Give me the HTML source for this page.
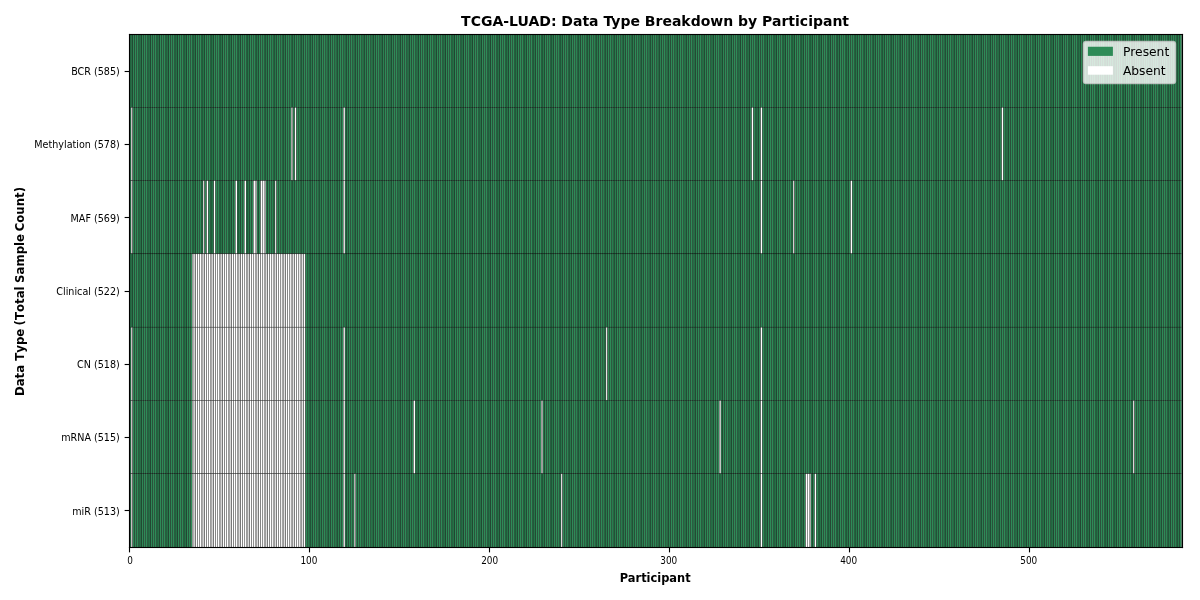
<!DOCTYPE html>
<html><head><meta charset="utf-8"><title>TCGA-LUAD: Data Type Breakdown by Participant</title>
<style>
html,body{margin:0;padding:0;background:#fff;width:1200px;height:600px;overflow:hidden}
svg{display:block;will-change:transform}
text{font-family:"DejaVu Sans","Liberation Sans",sans-serif;fill:#000}
.b{font-weight:bold}
</style></head><body>
<svg width="1200" height="600" viewBox="0 0 1200 600">
<rect x="0" y="0" width="1200" height="600" fill="#fff"/>

<defs><g id="g"><rect width="1.7988" height="73.2857" fill="#2e8b57"/><path d="M-0.1736 0.0000H0.1736V73.2857H-0.1736ZM1.6252 0.0000H1.9724V73.2857H1.6252Z"/></g><g id="w"><rect width="1.7988" height="73.2857" fill="#fff"/><path d="M-0.1736 0.0000H0.1736V73.2857H-0.1736ZM1.6252 0.0000H1.9724V73.2857H1.6252Z"/></g></defs>
<g class="hm">
<g transform="translate(0 34.0000)">
<use href="#g" x="129.250"/>
<use href="#g" x="131.049"/>
<use href="#g" x="132.848"/>
<use href="#g" x="134.646"/>
<use href="#g" x="136.445"/>
<use href="#g" x="138.244"/>
<use href="#g" x="140.043"/>
<use href="#g" x="141.842"/>
<use href="#g" x="143.640"/>
<use href="#g" x="145.439"/>
<use href="#g" x="147.238"/>
<use href="#g" x="149.037"/>
<use href="#g" x="150.836"/>
<use href="#g" x="152.634"/>
<use href="#g" x="154.433"/>
<use href="#g" x="156.232"/>
<use href="#g" x="158.031"/>
<use href="#g" x="159.830"/>
<use href="#g" x="161.628"/>
<use href="#g" x="163.427"/>
<use href="#g" x="165.226"/>
<use href="#g" x="167.025"/>
<use href="#g" x="168.824"/>
<use href="#g" x="170.622"/>
<use href="#g" x="172.421"/>
<use href="#g" x="174.220"/>
<use href="#g" x="176.019"/>
<use href="#g" x="177.818"/>
<use href="#g" x="179.616"/>
<use href="#g" x="181.415"/>
<use href="#g" x="183.214"/>
<use href="#g" x="185.013"/>
<use href="#g" x="186.812"/>
<use href="#g" x="188.610"/>
<use href="#g" x="190.409"/>
<use href="#g" x="192.208"/>
<use href="#g" x="194.007"/>
<use href="#g" x="195.806"/>
<use href="#g" x="197.604"/>
<use href="#g" x="199.403"/>
<use href="#g" x="201.202"/>
<use href="#g" x="203.001"/>
<use href="#g" x="204.800"/>
<use href="#g" x="206.598"/>
<use href="#g" x="208.397"/>
<use href="#g" x="210.196"/>
<use href="#g" x="211.995"/>
<use href="#g" x="213.794"/>
<use href="#g" x="215.592"/>
<use href="#g" x="217.391"/>
<use href="#g" x="219.190"/>
<use href="#g" x="220.989"/>
<use href="#g" x="222.788"/>
<use href="#g" x="224.586"/>
<use href="#g" x="226.385"/>
<use href="#g" x="228.184"/>
<use href="#g" x="229.983"/>
<use href="#g" x="231.782"/>
<use href="#g" x="233.580"/>
<use href="#g" x="235.379"/>
<use href="#g" x="237.178"/>
<use href="#g" x="238.977"/>
<use href="#g" x="240.776"/>
<use href="#g" x="242.574"/>
<use href="#g" x="244.373"/>
<use href="#g" x="246.172"/>
<use href="#g" x="247.971"/>
<use href="#g" x="249.770"/>
<use href="#g" x="251.568"/>
<use href="#g" x="253.367"/>
<use href="#g" x="255.166"/>
<use href="#g" x="256.965"/>
<use href="#g" x="258.764"/>
<use href="#g" x="260.562"/>
<use href="#g" x="262.361"/>
<use href="#g" x="264.160"/>
<use href="#g" x="265.959"/>
<use href="#g" x="267.758"/>
<use href="#g" x="269.556"/>
<use href="#g" x="271.355"/>
<use href="#g" x="273.154"/>
<use href="#g" x="274.953"/>
<use href="#g" x="276.752"/>
<use href="#g" x="278.550"/>
<use href="#g" x="280.349"/>
<use href="#g" x="282.148"/>
<use href="#g" x="283.947"/>
<use href="#g" x="285.746"/>
<use href="#g" x="287.544"/>
<use href="#g" x="289.343"/>
<use href="#g" x="291.142"/>
<use href="#g" x="292.941"/>
<use href="#g" x="294.740"/>
<use href="#g" x="296.538"/>
<use href="#g" x="298.337"/>
<use href="#g" x="300.136"/>
<use href="#g" x="301.935"/>
<use href="#g" x="303.734"/>
<use href="#g" x="305.532"/>
<use href="#g" x="307.331"/>
<use href="#g" x="309.130"/>
<use href="#g" x="310.929"/>
<use href="#g" x="312.728"/>
<use href="#g" x="314.526"/>
<use href="#g" x="316.325"/>
<use href="#g" x="318.124"/>
<use href="#g" x="319.923"/>
<use href="#g" x="321.722"/>
<use href="#g" x="323.520"/>
<use href="#g" x="325.319"/>
<use href="#g" x="327.118"/>
<use href="#g" x="328.917"/>
<use href="#g" x="330.716"/>
<use href="#g" x="332.514"/>
<use href="#g" x="334.313"/>
<use href="#g" x="336.112"/>
<use href="#g" x="337.911"/>
<use href="#g" x="339.710"/>
<use href="#g" x="341.508"/>
<use href="#g" x="343.307"/>
<use href="#g" x="345.106"/>
<use href="#g" x="346.905"/>
<use href="#g" x="348.704"/>
<use href="#g" x="350.502"/>
<use href="#g" x="352.301"/>
<use href="#g" x="354.100"/>
<use href="#g" x="355.899"/>
<use href="#g" x="357.698"/>
<use href="#g" x="359.496"/>
<use href="#g" x="361.295"/>
<use href="#g" x="363.094"/>
<use href="#g" x="364.893"/>
<use href="#g" x="366.692"/>
<use href="#g" x="368.490"/>
<use href="#g" x="370.289"/>
<use href="#g" x="372.088"/>
<use href="#g" x="373.887"/>
<use href="#g" x="375.686"/>
<use href="#g" x="377.484"/>
<use href="#g" x="379.283"/>
<use href="#g" x="381.082"/>
<use href="#g" x="382.881"/>
<use href="#g" x="384.680"/>
<use href="#g" x="386.478"/>
<use href="#g" x="388.277"/>
<use href="#g" x="390.076"/>
<use href="#g" x="391.875"/>
<use href="#g" x="393.674"/>
<use href="#g" x="395.472"/>
<use href="#g" x="397.271"/>
<use href="#g" x="399.070"/>
<use href="#g" x="400.869"/>
<use href="#g" x="402.668"/>
<use href="#g" x="404.466"/>
<use href="#g" x="406.265"/>
<use href="#g" x="408.064"/>
<use href="#g" x="409.863"/>
<use href="#g" x="411.662"/>
<use href="#g" x="413.460"/>
<use href="#g" x="415.259"/>
<use href="#g" x="417.058"/>
<use href="#g" x="418.857"/>
<use href="#g" x="420.656"/>
<use href="#g" x="422.454"/>
<use href="#g" x="424.253"/>
<use href="#g" x="426.052"/>
<use href="#g" x="427.851"/>
<use href="#g" x="429.650"/>
<use href="#g" x="431.448"/>
<use href="#g" x="433.247"/>
<use href="#g" x="435.046"/>
<use href="#g" x="436.845"/>
<use href="#g" x="438.644"/>
<use href="#g" x="440.442"/>
<use href="#g" x="442.241"/>
<use href="#g" x="444.040"/>
<use href="#g" x="445.839"/>
<use href="#g" x="447.638"/>
<use href="#g" x="449.436"/>
<use href="#g" x="451.235"/>
<use href="#g" x="453.034"/>
<use href="#g" x="454.833"/>
<use href="#g" x="456.632"/>
<use href="#g" x="458.430"/>
<use href="#g" x="460.229"/>
<use href="#g" x="462.028"/>
<use href="#g" x="463.827"/>
<use href="#g" x="465.626"/>
<use href="#g" x="467.424"/>
<use href="#g" x="469.223"/>
<use href="#g" x="471.022"/>
<use href="#g" x="472.821"/>
<use href="#g" x="474.620"/>
<use href="#g" x="476.418"/>
<use href="#g" x="478.217"/>
<use href="#g" x="480.016"/>
<use href="#g" x="481.815"/>
<use href="#g" x="483.614"/>
<use href="#g" x="485.412"/>
<use href="#g" x="487.211"/>
<use href="#g" x="489.010"/>
<use href="#g" x="490.809"/>
<use href="#g" x="492.608"/>
<use href="#g" x="494.406"/>
<use href="#g" x="496.205"/>
<use href="#g" x="498.004"/>
<use href="#g" x="499.803"/>
<use href="#g" x="501.602"/>
<use href="#g" x="503.400"/>
<use href="#g" x="505.199"/>
<use href="#g" x="506.998"/>
<use href="#g" x="508.797"/>
<use href="#g" x="510.596"/>
<use href="#g" x="512.394"/>
<use href="#g" x="514.193"/>
<use href="#g" x="515.992"/>
<use href="#g" x="517.791"/>
<use href="#g" x="519.590"/>
<use href="#g" x="521.388"/>
<use href="#g" x="523.187"/>
<use href="#g" x="524.986"/>
<use href="#g" x="526.785"/>
<use href="#g" x="528.584"/>
<use href="#g" x="530.382"/>
<use href="#g" x="532.181"/>
<use href="#g" x="533.980"/>
<use href="#g" x="535.779"/>
<use href="#g" x="537.578"/>
<use href="#g" x="539.376"/>
<use href="#g" x="541.175"/>
<use href="#g" x="542.974"/>
<use href="#g" x="544.773"/>
<use href="#g" x="546.572"/>
<use href="#g" x="548.370"/>
<use href="#g" x="550.169"/>
<use href="#g" x="551.968"/>
<use href="#g" x="553.767"/>
<use href="#g" x="555.566"/>
<use href="#g" x="557.364"/>
<use href="#g" x="559.163"/>
<use href="#g" x="560.962"/>
<use href="#g" x="562.761"/>
<use href="#g" x="564.560"/>
<use href="#g" x="566.358"/>
<use href="#g" x="568.157"/>
<use href="#g" x="569.956"/>
<use href="#g" x="571.755"/>
<use href="#g" x="573.554"/>
<use href="#g" x="575.352"/>
<use href="#g" x="577.151"/>
<use href="#g" x="578.950"/>
<use href="#g" x="580.749"/>
<use href="#g" x="582.548"/>
<use href="#g" x="584.346"/>
<use href="#g" x="586.145"/>
<use href="#g" x="587.944"/>
<use href="#g" x="589.743"/>
<use href="#g" x="591.542"/>
<use href="#g" x="593.340"/>
<use href="#g" x="595.139"/>
<use href="#g" x="596.938"/>
<use href="#g" x="598.737"/>
<use href="#g" x="600.536"/>
<use href="#g" x="602.334"/>
<use href="#g" x="604.133"/>
<use href="#g" x="605.932"/>
<use href="#g" x="607.731"/>
<use href="#g" x="609.530"/>
<use href="#g" x="611.328"/>
<use href="#g" x="613.127"/>
<use href="#g" x="614.926"/>
<use href="#g" x="616.725"/>
<use href="#g" x="618.524"/>
<use href="#g" x="620.322"/>
<use href="#g" x="622.121"/>
<use href="#g" x="623.920"/>
<use href="#g" x="625.719"/>
<use href="#g" x="627.518"/>
<use href="#g" x="629.316"/>
<use href="#g" x="631.115"/>
<use href="#g" x="632.914"/>
<use href="#g" x="634.713"/>
<use href="#g" x="636.512"/>
<use href="#g" x="638.310"/>
<use href="#g" x="640.109"/>
<use href="#g" x="641.908"/>
<use href="#g" x="643.707"/>
<use href="#g" x="645.506"/>
<use href="#g" x="647.304"/>
<use href="#g" x="649.103"/>
<use href="#g" x="650.902"/>
<use href="#g" x="652.701"/>
<use href="#g" x="654.500"/>
<use href="#g" x="656.298"/>
<use href="#g" x="658.097"/>
<use href="#g" x="659.896"/>
<use href="#g" x="661.695"/>
<use href="#g" x="663.494"/>
<use href="#g" x="665.292"/>
<use href="#g" x="667.091"/>
<use href="#g" x="668.890"/>
<use href="#g" x="670.689"/>
<use href="#g" x="672.488"/>
<use href="#g" x="674.286"/>
<use href="#g" x="676.085"/>
<use href="#g" x="677.884"/>
<use href="#g" x="679.683"/>
<use href="#g" x="681.482"/>
<use href="#g" x="683.280"/>
<use href="#g" x="685.079"/>
<use href="#g" x="686.878"/>
<use href="#g" x="688.677"/>
<use href="#g" x="690.476"/>
<use href="#g" x="692.274"/>
<use href="#g" x="694.073"/>
<use href="#g" x="695.872"/>
<use href="#g" x="697.671"/>
<use href="#g" x="699.470"/>
<use href="#g" x="701.268"/>
<use href="#g" x="703.067"/>
<use href="#g" x="704.866"/>
<use href="#g" x="706.665"/>
<use href="#g" x="708.464"/>
<use href="#g" x="710.262"/>
<use href="#g" x="712.061"/>
<use href="#g" x="713.860"/>
<use href="#g" x="715.659"/>
<use href="#g" x="717.458"/>
<use href="#g" x="719.256"/>
<use href="#g" x="721.055"/>
<use href="#g" x="722.854"/>
<use href="#g" x="724.653"/>
<use href="#g" x="726.452"/>
<use href="#g" x="728.250"/>
<use href="#g" x="730.049"/>
<use href="#g" x="731.848"/>
<use href="#g" x="733.647"/>
<use href="#g" x="735.446"/>
<use href="#g" x="737.244"/>
<use href="#g" x="739.043"/>
<use href="#g" x="740.842"/>
<use href="#g" x="742.641"/>
<use href="#g" x="744.440"/>
<use href="#g" x="746.238"/>
<use href="#g" x="748.037"/>
<use href="#g" x="749.836"/>
<use href="#g" x="751.635"/>
<use href="#g" x="753.434"/>
<use href="#g" x="755.232"/>
<use href="#g" x="757.031"/>
<use href="#g" x="758.830"/>
<use href="#g" x="760.629"/>
<use href="#g" x="762.428"/>
<use href="#g" x="764.226"/>
<use href="#g" x="766.025"/>
<use href="#g" x="767.824"/>
<use href="#g" x="769.623"/>
<use href="#g" x="771.422"/>
<use href="#g" x="773.220"/>
<use href="#g" x="775.019"/>
<use href="#g" x="776.818"/>
<use href="#g" x="778.617"/>
<use href="#g" x="780.416"/>
<use href="#g" x="782.214"/>
<use href="#g" x="784.013"/>
<use href="#g" x="785.812"/>
<use href="#g" x="787.611"/>
<use href="#g" x="789.410"/>
<use href="#g" x="791.208"/>
<use href="#g" x="793.007"/>
<use href="#g" x="794.806"/>
<use href="#g" x="796.605"/>
<use href="#g" x="798.404"/>
<use href="#g" x="800.202"/>
<use href="#g" x="802.001"/>
<use href="#g" x="803.800"/>
<use href="#g" x="805.599"/>
<use href="#g" x="807.398"/>
<use href="#g" x="809.196"/>
<use href="#g" x="810.995"/>
<use href="#g" x="812.794"/>
<use href="#g" x="814.593"/>
<use href="#g" x="816.392"/>
<use href="#g" x="818.190"/>
<use href="#g" x="819.989"/>
<use href="#g" x="821.788"/>
<use href="#g" x="823.587"/>
<use href="#g" x="825.386"/>
<use href="#g" x="827.184"/>
<use href="#g" x="828.983"/>
<use href="#g" x="830.782"/>
<use href="#g" x="832.581"/>
<use href="#g" x="834.380"/>
<use href="#g" x="836.178"/>
<use href="#g" x="837.977"/>
<use href="#g" x="839.776"/>
<use href="#g" x="841.575"/>
<use href="#g" x="843.374"/>
<use href="#g" x="845.172"/>
<use href="#g" x="846.971"/>
<use href="#g" x="848.770"/>
<use href="#g" x="850.569"/>
<use href="#g" x="852.368"/>
<use href="#g" x="854.166"/>
<use href="#g" x="855.965"/>
<use href="#g" x="857.764"/>
<use href="#g" x="859.563"/>
<use href="#g" x="861.362"/>
<use href="#g" x="863.160"/>
<use href="#g" x="864.959"/>
<use href="#g" x="866.758"/>
<use href="#g" x="868.557"/>
<use href="#g" x="870.356"/>
<use href="#g" x="872.154"/>
<use href="#g" x="873.953"/>
<use href="#g" x="875.752"/>
<use href="#g" x="877.551"/>
<use href="#g" x="879.350"/>
<use href="#g" x="881.148"/>
<use href="#g" x="882.947"/>
<use href="#g" x="884.746"/>
<use href="#g" x="886.545"/>
<use href="#g" x="888.344"/>
<use href="#g" x="890.142"/>
<use href="#g" x="891.941"/>
<use href="#g" x="893.740"/>
<use href="#g" x="895.539"/>
<use href="#g" x="897.338"/>
<use href="#g" x="899.136"/>
<use href="#g" x="900.935"/>
<use href="#g" x="902.734"/>
<use href="#g" x="904.533"/>
<use href="#g" x="906.332"/>
<use href="#g" x="908.130"/>
<use href="#g" x="909.929"/>
<use href="#g" x="911.728"/>
<use href="#g" x="913.527"/>
<use href="#g" x="915.326"/>
<use href="#g" x="917.124"/>
<use href="#g" x="918.923"/>
<use href="#g" x="920.722"/>
<use href="#g" x="922.521"/>
<use href="#g" x="924.320"/>
<use href="#g" x="926.118"/>
<use href="#g" x="927.917"/>
<use href="#g" x="929.716"/>
<use href="#g" x="931.515"/>
<use href="#g" x="933.314"/>
<use href="#g" x="935.112"/>
<use href="#g" x="936.911"/>
<use href="#g" x="938.710"/>
<use href="#g" x="940.509"/>
<use href="#g" x="942.308"/>
<use href="#g" x="944.106"/>
<use href="#g" x="945.905"/>
<use href="#g" x="947.704"/>
<use href="#g" x="949.503"/>
<use href="#g" x="951.302"/>
<use href="#g" x="953.100"/>
<use href="#g" x="954.899"/>
<use href="#g" x="956.698"/>
<use href="#g" x="958.497"/>
<use href="#g" x="960.296"/>
<use href="#g" x="962.094"/>
<use href="#g" x="963.893"/>
<use href="#g" x="965.692"/>
<use href="#g" x="967.491"/>
<use href="#g" x="969.290"/>
<use href="#g" x="971.088"/>
<use href="#g" x="972.887"/>
<use href="#g" x="974.686"/>
<use href="#g" x="976.485"/>
<use href="#g" x="978.284"/>
<use href="#g" x="980.082"/>
<use href="#g" x="981.881"/>
<use href="#g" x="983.680"/>
<use href="#g" x="985.479"/>
<use href="#g" x="987.278"/>
<use href="#g" x="989.076"/>
<use href="#g" x="990.875"/>
<use href="#g" x="992.674"/>
<use href="#g" x="994.473"/>
<use href="#g" x="996.272"/>
<use href="#g" x="998.070"/>
<use href="#g" x="999.869"/>
<use href="#g" x="1001.668"/>
<use href="#g" x="1003.467"/>
<use href="#g" x="1005.266"/>
<use href="#g" x="1007.064"/>
<use href="#g" x="1008.863"/>
<use href="#g" x="1010.662"/>
<use href="#g" x="1012.461"/>
<use href="#g" x="1014.260"/>
<use href="#g" x="1016.058"/>
<use href="#g" x="1017.857"/>
<use href="#g" x="1019.656"/>
<use href="#g" x="1021.455"/>
<use href="#g" x="1023.254"/>
<use href="#g" x="1025.052"/>
<use href="#g" x="1026.851"/>
<use href="#g" x="1028.650"/>
<use href="#g" x="1030.449"/>
<use href="#g" x="1032.248"/>
<use href="#g" x="1034.046"/>
<use href="#g" x="1035.845"/>
<use href="#g" x="1037.644"/>
<use href="#g" x="1039.443"/>
<use href="#g" x="1041.242"/>
<use href="#g" x="1043.040"/>
<use href="#g" x="1044.839"/>
<use href="#g" x="1046.638"/>
<use href="#g" x="1048.437"/>
<use href="#g" x="1050.236"/>
<use href="#g" x="1052.034"/>
<use href="#g" x="1053.833"/>
<use href="#g" x="1055.632"/>
<use href="#g" x="1057.431"/>
<use href="#g" x="1059.230"/>
<use href="#g" x="1061.028"/>
<use href="#g" x="1062.827"/>
<use href="#g" x="1064.626"/>
<use href="#g" x="1066.425"/>
<use href="#g" x="1068.224"/>
<use href="#g" x="1070.022"/>
<use href="#g" x="1071.821"/>
<use href="#g" x="1073.620"/>
<use href="#g" x="1075.419"/>
<use href="#g" x="1077.218"/>
<use href="#g" x="1079.016"/>
<use href="#g" x="1080.815"/>
<use href="#g" x="1082.614"/>
<use href="#g" x="1084.413"/>
<use href="#g" x="1086.212"/>
<use href="#g" x="1088.010"/>
<use href="#g" x="1089.809"/>
<use href="#g" x="1091.608"/>
<use href="#g" x="1093.407"/>
<use href="#g" x="1095.206"/>
<use href="#g" x="1097.004"/>
<use href="#g" x="1098.803"/>
<use href="#g" x="1100.602"/>
<use href="#g" x="1102.401"/>
<use href="#g" x="1104.200"/>
<use href="#g" x="1105.998"/>
<use href="#g" x="1107.797"/>
<use href="#g" x="1109.596"/>
<use href="#g" x="1111.395"/>
<use href="#g" x="1113.194"/>
<use href="#g" x="1114.992"/>
<use href="#g" x="1116.791"/>
<use href="#g" x="1118.590"/>
<use href="#g" x="1120.389"/>
<use href="#g" x="1122.188"/>
<use href="#g" x="1123.986"/>
<use href="#g" x="1125.785"/>
<use href="#g" x="1127.584"/>
<use href="#g" x="1129.383"/>
<use href="#g" x="1131.182"/>
<use href="#g" x="1132.980"/>
<use href="#g" x="1134.779"/>
<use href="#g" x="1136.578"/>
<use href="#g" x="1138.377"/>
<use href="#g" x="1140.176"/>
<use href="#g" x="1141.974"/>
<use href="#g" x="1143.773"/>
<use href="#g" x="1145.572"/>
<use href="#g" x="1147.371"/>
<use href="#g" x="1149.170"/>
<use href="#g" x="1150.968"/>
<use href="#g" x="1152.767"/>
<use href="#g" x="1154.566"/>
<use href="#g" x="1156.365"/>
<use href="#g" x="1158.164"/>
<use href="#g" x="1159.962"/>
<use href="#g" x="1161.761"/>
<use href="#g" x="1163.560"/>
<use href="#g" x="1165.359"/>
<use href="#g" x="1167.158"/>
<use href="#g" x="1168.956"/>
<use href="#g" x="1170.755"/>
<use href="#g" x="1172.554"/>
<use href="#g" x="1174.353"/>
<use href="#g" x="1176.152"/>
<use href="#g" x="1177.950"/>
<use href="#g" x="1179.749"/>
</g>
<g transform="translate(0 107.2857)">
<use href="#g" x="129.250"/>
<use href="#w" x="131.049"/>
<use href="#g" x="132.848"/>
<use href="#g" x="134.646"/>
<use href="#g" x="136.445"/>
<use href="#g" x="138.244"/>
<use href="#g" x="140.043"/>
<use href="#g" x="141.842"/>
<use href="#g" x="143.640"/>
<use href="#g" x="145.439"/>
<use href="#g" x="147.238"/>
<use href="#g" x="149.037"/>
<use href="#g" x="150.836"/>
<use href="#g" x="152.634"/>
<use href="#g" x="154.433"/>
<use href="#g" x="156.232"/>
<use href="#g" x="158.031"/>
<use href="#g" x="159.830"/>
<use href="#g" x="161.628"/>
<use href="#g" x="163.427"/>
<use href="#g" x="165.226"/>
<use href="#g" x="167.025"/>
<use href="#g" x="168.824"/>
<use href="#g" x="170.622"/>
<use href="#g" x="172.421"/>
<use href="#g" x="174.220"/>
<use href="#g" x="176.019"/>
<use href="#g" x="177.818"/>
<use href="#g" x="179.616"/>
<use href="#g" x="181.415"/>
<use href="#g" x="183.214"/>
<use href="#g" x="185.013"/>
<use href="#g" x="186.812"/>
<use href="#g" x="188.610"/>
<use href="#g" x="190.409"/>
<use href="#g" x="192.208"/>
<use href="#g" x="194.007"/>
<use href="#g" x="195.806"/>
<use href="#g" x="197.604"/>
<use href="#g" x="199.403"/>
<use href="#g" x="201.202"/>
<use href="#g" x="203.001"/>
<use href="#g" x="204.800"/>
<use href="#g" x="206.598"/>
<use href="#g" x="208.397"/>
<use href="#g" x="210.196"/>
<use href="#g" x="211.995"/>
<use href="#g" x="213.794"/>
<use href="#g" x="215.592"/>
<use href="#g" x="217.391"/>
<use href="#g" x="219.190"/>
<use href="#g" x="220.989"/>
<use href="#g" x="222.788"/>
<use href="#g" x="224.586"/>
<use href="#g" x="226.385"/>
<use href="#g" x="228.184"/>
<use href="#g" x="229.983"/>
<use href="#g" x="231.782"/>
<use href="#g" x="233.580"/>
<use href="#g" x="235.379"/>
<use href="#g" x="237.178"/>
<use href="#g" x="238.977"/>
<use href="#g" x="240.776"/>
<use href="#g" x="242.574"/>
<use href="#g" x="244.373"/>
<use href="#g" x="246.172"/>
<use href="#g" x="247.971"/>
<use href="#g" x="249.770"/>
<use href="#g" x="251.568"/>
<use href="#g" x="253.367"/>
<use href="#g" x="255.166"/>
<use href="#g" x="256.965"/>
<use href="#g" x="258.764"/>
<use href="#g" x="260.562"/>
<use href="#g" x="262.361"/>
<use href="#g" x="264.160"/>
<use href="#g" x="265.959"/>
<use href="#g" x="267.758"/>
<use href="#g" x="269.556"/>
<use href="#g" x="271.355"/>
<use href="#g" x="273.154"/>
<use href="#g" x="274.953"/>
<use href="#g" x="276.752"/>
<use href="#g" x="278.550"/>
<use href="#g" x="280.349"/>
<use href="#g" x="282.148"/>
<use href="#g" x="283.947"/>
<use href="#g" x="285.746"/>
<use href="#g" x="287.544"/>
<use href="#g" x="289.343"/>
<use href="#w" x="291.142"/>
<use href="#g" x="292.941"/>
<use href="#w" x="294.740"/>
<use href="#g" x="296.538"/>
<use href="#g" x="298.337"/>
<use href="#g" x="300.136"/>
<use href="#g" x="301.935"/>
<use href="#g" x="303.734"/>
<use href="#g" x="305.532"/>
<use href="#g" x="307.331"/>
<use href="#g" x="309.130"/>
<use href="#g" x="310.929"/>
<use href="#g" x="312.728"/>
<use href="#g" x="314.526"/>
<use href="#g" x="316.325"/>
<use href="#g" x="318.124"/>
<use href="#g" x="319.923"/>
<use href="#g" x="321.722"/>
<use href="#g" x="323.520"/>
<use href="#g" x="325.319"/>
<use href="#g" x="327.118"/>
<use href="#g" x="328.917"/>
<use href="#g" x="330.716"/>
<use href="#g" x="332.514"/>
<use href="#g" x="334.313"/>
<use href="#g" x="336.112"/>
<use href="#g" x="337.911"/>
<use href="#g" x="339.710"/>
<use href="#g" x="341.508"/>
<use href="#w" x="343.307"/>
<use href="#g" x="345.106"/>
<use href="#g" x="346.905"/>
<use href="#g" x="348.704"/>
<use href="#g" x="350.502"/>
<use href="#g" x="352.301"/>
<use href="#g" x="354.100"/>
<use href="#g" x="355.899"/>
<use href="#g" x="357.698"/>
<use href="#g" x="359.496"/>
<use href="#g" x="361.295"/>
<use href="#g" x="363.094"/>
<use href="#g" x="364.893"/>
<use href="#g" x="366.692"/>
<use href="#g" x="368.490"/>
<use href="#g" x="370.289"/>
<use href="#g" x="372.088"/>
<use href="#g" x="373.887"/>
<use href="#g" x="375.686"/>
<use href="#g" x="377.484"/>
<use href="#g" x="379.283"/>
<use href="#g" x="381.082"/>
<use href="#g" x="382.881"/>
<use href="#g" x="384.680"/>
<use href="#g" x="386.478"/>
<use href="#g" x="388.277"/>
<use href="#g" x="390.076"/>
<use href="#g" x="391.875"/>
<use href="#g" x="393.674"/>
<use href="#g" x="395.472"/>
<use href="#g" x="397.271"/>
<use href="#g" x="399.070"/>
<use href="#g" x="400.869"/>
<use href="#g" x="402.668"/>
<use href="#g" x="404.466"/>
<use href="#g" x="406.265"/>
<use href="#g" x="408.064"/>
<use href="#g" x="409.863"/>
<use href="#g" x="411.662"/>
<use href="#g" x="413.460"/>
<use href="#g" x="415.259"/>
<use href="#g" x="417.058"/>
<use href="#g" x="418.857"/>
<use href="#g" x="420.656"/>
<use href="#g" x="422.454"/>
<use href="#g" x="424.253"/>
<use href="#g" x="426.052"/>
<use href="#g" x="427.851"/>
<use href="#g" x="429.650"/>
<use href="#g" x="431.448"/>
<use href="#g" x="433.247"/>
<use href="#g" x="435.046"/>
<use href="#g" x="436.845"/>
<use href="#g" x="438.644"/>
<use href="#g" x="440.442"/>
<use href="#g" x="442.241"/>
<use href="#g" x="444.040"/>
<use href="#g" x="445.839"/>
<use href="#g" x="447.638"/>
<use href="#g" x="449.436"/>
<use href="#g" x="451.235"/>
<use href="#g" x="453.034"/>
<use href="#g" x="454.833"/>
<use href="#g" x="456.632"/>
<use href="#g" x="458.430"/>
<use href="#g" x="460.229"/>
<use href="#g" x="462.028"/>
<use href="#g" x="463.827"/>
<use href="#g" x="465.626"/>
<use href="#g" x="467.424"/>
<use href="#g" x="469.223"/>
<use href="#g" x="471.022"/>
<use href="#g" x="472.821"/>
<use href="#g" x="474.620"/>
<use href="#g" x="476.418"/>
<use href="#g" x="478.217"/>
<use href="#g" x="480.016"/>
<use href="#g" x="481.815"/>
<use href="#g" x="483.614"/>
<use href="#g" x="485.412"/>
<use href="#g" x="487.211"/>
<use href="#g" x="489.010"/>
<use href="#g" x="490.809"/>
<use href="#g" x="492.608"/>
<use href="#g" x="494.406"/>
<use href="#g" x="496.205"/>
<use href="#g" x="498.004"/>
<use href="#g" x="499.803"/>
<use href="#g" x="501.602"/>
<use href="#g" x="503.400"/>
<use href="#g" x="505.199"/>
<use href="#g" x="506.998"/>
<use href="#g" x="508.797"/>
<use href="#g" x="510.596"/>
<use href="#g" x="512.394"/>
<use href="#g" x="514.193"/>
<use href="#g" x="515.992"/>
<use href="#g" x="517.791"/>
<use href="#g" x="519.590"/>
<use href="#g" x="521.388"/>
<use href="#g" x="523.187"/>
<use href="#g" x="524.986"/>
<use href="#g" x="526.785"/>
<use href="#g" x="528.584"/>
<use href="#g" x="530.382"/>
<use href="#g" x="532.181"/>
<use href="#g" x="533.980"/>
<use href="#g" x="535.779"/>
<use href="#g" x="537.578"/>
<use href="#g" x="539.376"/>
<use href="#g" x="541.175"/>
<use href="#g" x="542.974"/>
<use href="#g" x="544.773"/>
<use href="#g" x="546.572"/>
<use href="#g" x="548.370"/>
<use href="#g" x="550.169"/>
<use href="#g" x="551.968"/>
<use href="#g" x="553.767"/>
<use href="#g" x="555.566"/>
<use href="#g" x="557.364"/>
<use href="#g" x="559.163"/>
<use href="#g" x="560.962"/>
<use href="#g" x="562.761"/>
<use href="#g" x="564.560"/>
<use href="#g" x="566.358"/>
<use href="#g" x="568.157"/>
<use href="#g" x="569.956"/>
<use href="#g" x="571.755"/>
<use href="#g" x="573.554"/>
<use href="#g" x="575.352"/>
<use href="#g" x="577.151"/>
<use href="#g" x="578.950"/>
<use href="#g" x="580.749"/>
<use href="#g" x="582.548"/>
<use href="#g" x="584.346"/>
<use href="#g" x="586.145"/>
<use href="#g" x="587.944"/>
<use href="#g" x="589.743"/>
<use href="#g" x="591.542"/>
<use href="#g" x="593.340"/>
<use href="#g" x="595.139"/>
<use href="#g" x="596.938"/>
<use href="#g" x="598.737"/>
<use href="#g" x="600.536"/>
<use href="#g" x="602.334"/>
<use href="#g" x="604.133"/>
<use href="#g" x="605.932"/>
<use href="#g" x="607.731"/>
<use href="#g" x="609.530"/>
<use href="#g" x="611.328"/>
<use href="#g" x="613.127"/>
<use href="#g" x="614.926"/>
<use href="#g" x="616.725"/>
<use href="#g" x="618.524"/>
<use href="#g" x="620.322"/>
<use href="#g" x="622.121"/>
<use href="#g" x="623.920"/>
<use href="#g" x="625.719"/>
<use href="#g" x="627.518"/>
<use href="#g" x="629.316"/>
<use href="#g" x="631.115"/>
<use href="#g" x="632.914"/>
<use href="#g" x="634.713"/>
<use href="#g" x="636.512"/>
<use href="#g" x="638.310"/>
<use href="#g" x="640.109"/>
<use href="#g" x="641.908"/>
<use href="#g" x="643.707"/>
<use href="#g" x="645.506"/>
<use href="#g" x="647.304"/>
<use href="#g" x="649.103"/>
<use href="#g" x="650.902"/>
<use href="#g" x="652.701"/>
<use href="#g" x="654.500"/>
<use href="#g" x="656.298"/>
<use href="#g" x="658.097"/>
<use href="#g" x="659.896"/>
<use href="#g" x="661.695"/>
<use href="#g" x="663.494"/>
<use href="#g" x="665.292"/>
<use href="#g" x="667.091"/>
<use href="#g" x="668.890"/>
<use href="#g" x="670.689"/>
<use href="#g" x="672.488"/>
<use href="#g" x="674.286"/>
<use href="#g" x="676.085"/>
<use href="#g" x="677.884"/>
<use href="#g" x="679.683"/>
<use href="#g" x="681.482"/>
<use href="#g" x="683.280"/>
<use href="#g" x="685.079"/>
<use href="#g" x="686.878"/>
<use href="#g" x="688.677"/>
<use href="#g" x="690.476"/>
<use href="#g" x="692.274"/>
<use href="#g" x="694.073"/>
<use href="#g" x="695.872"/>
<use href="#g" x="697.671"/>
<use href="#g" x="699.470"/>
<use href="#g" x="701.268"/>
<use href="#g" x="703.067"/>
<use href="#g" x="704.866"/>
<use href="#g" x="706.665"/>
<use href="#g" x="708.464"/>
<use href="#g" x="710.262"/>
<use href="#g" x="712.061"/>
<use href="#g" x="713.860"/>
<use href="#g" x="715.659"/>
<use href="#g" x="717.458"/>
<use href="#g" x="719.256"/>
<use href="#g" x="721.055"/>
<use href="#g" x="722.854"/>
<use href="#g" x="724.653"/>
<use href="#g" x="726.452"/>
<use href="#g" x="728.250"/>
<use href="#g" x="730.049"/>
<use href="#g" x="731.848"/>
<use href="#g" x="733.647"/>
<use href="#g" x="735.446"/>
<use href="#g" x="737.244"/>
<use href="#g" x="739.043"/>
<use href="#g" x="740.842"/>
<use href="#g" x="742.641"/>
<use href="#g" x="744.440"/>
<use href="#g" x="746.238"/>
<use href="#g" x="748.037"/>
<use href="#g" x="749.836"/>
<use href="#w" x="751.635"/>
<use href="#g" x="753.434"/>
<use href="#g" x="755.232"/>
<use href="#g" x="757.031"/>
<use href="#g" x="758.830"/>
<use href="#w" x="760.629"/>
<use href="#g" x="762.428"/>
<use href="#g" x="764.226"/>
<use href="#g" x="766.025"/>
<use href="#g" x="767.824"/>
<use href="#g" x="769.623"/>
<use href="#g" x="771.422"/>
<use href="#g" x="773.220"/>
<use href="#g" x="775.019"/>
<use href="#g" x="776.818"/>
<use href="#g" x="778.617"/>
<use href="#g" x="780.416"/>
<use href="#g" x="782.214"/>
<use href="#g" x="784.013"/>
<use href="#g" x="785.812"/>
<use href="#g" x="787.611"/>
<use href="#g" x="789.410"/>
<use href="#g" x="791.208"/>
<use href="#g" x="793.007"/>
<use href="#g" x="794.806"/>
<use href="#g" x="796.605"/>
<use href="#g" x="798.404"/>
<use href="#g" x="800.202"/>
<use href="#g" x="802.001"/>
<use href="#g" x="803.800"/>
<use href="#g" x="805.599"/>
<use href="#g" x="807.398"/>
<use href="#g" x="809.196"/>
<use href="#g" x="810.995"/>
<use href="#g" x="812.794"/>
<use href="#g" x="814.593"/>
<use href="#g" x="816.392"/>
<use href="#g" x="818.190"/>
<use href="#g" x="819.989"/>
<use href="#g" x="821.788"/>
<use href="#g" x="823.587"/>
<use href="#g" x="825.386"/>
<use href="#g" x="827.184"/>
<use href="#g" x="828.983"/>
<use href="#g" x="830.782"/>
<use href="#g" x="832.581"/>
<use href="#g" x="834.380"/>
<use href="#g" x="836.178"/>
<use href="#g" x="837.977"/>
<use href="#g" x="839.776"/>
<use href="#g" x="841.575"/>
<use href="#g" x="843.374"/>
<use href="#g" x="845.172"/>
<use href="#g" x="846.971"/>
<use href="#g" x="848.770"/>
<use href="#g" x="850.569"/>
<use href="#g" x="852.368"/>
<use href="#g" x="854.166"/>
<use href="#g" x="855.965"/>
<use href="#g" x="857.764"/>
<use href="#g" x="859.563"/>
<use href="#g" x="861.362"/>
<use href="#g" x="863.160"/>
<use href="#g" x="864.959"/>
<use href="#g" x="866.758"/>
<use href="#g" x="868.557"/>
<use href="#g" x="870.356"/>
<use href="#g" x="872.154"/>
<use href="#g" x="873.953"/>
<use href="#g" x="875.752"/>
<use href="#g" x="877.551"/>
<use href="#g" x="879.350"/>
<use href="#g" x="881.148"/>
<use href="#g" x="882.947"/>
<use href="#g" x="884.746"/>
<use href="#g" x="886.545"/>
<use href="#g" x="888.344"/>
<use href="#g" x="890.142"/>
<use href="#g" x="891.941"/>
<use href="#g" x="893.740"/>
<use href="#g" x="895.539"/>
<use href="#g" x="897.338"/>
<use href="#g" x="899.136"/>
<use href="#g" x="900.935"/>
<use href="#g" x="902.734"/>
<use href="#g" x="904.533"/>
<use href="#g" x="906.332"/>
<use href="#g" x="908.130"/>
<use href="#g" x="909.929"/>
<use href="#g" x="911.728"/>
<use href="#g" x="913.527"/>
<use href="#g" x="915.326"/>
<use href="#g" x="917.124"/>
<use href="#g" x="918.923"/>
<use href="#g" x="920.722"/>
<use href="#g" x="922.521"/>
<use href="#g" x="924.320"/>
<use href="#g" x="926.118"/>
<use href="#g" x="927.917"/>
<use href="#g" x="929.716"/>
<use href="#g" x="931.515"/>
<use href="#g" x="933.314"/>
<use href="#g" x="935.112"/>
<use href="#g" x="936.911"/>
<use href="#g" x="938.710"/>
<use href="#g" x="940.509"/>
<use href="#g" x="942.308"/>
<use href="#g" x="944.106"/>
<use href="#g" x="945.905"/>
<use href="#g" x="947.704"/>
<use href="#g" x="949.503"/>
<use href="#g" x="951.302"/>
<use href="#g" x="953.100"/>
<use href="#g" x="954.899"/>
<use href="#g" x="956.698"/>
<use href="#g" x="958.497"/>
<use href="#g" x="960.296"/>
<use href="#g" x="962.094"/>
<use href="#g" x="963.893"/>
<use href="#g" x="965.692"/>
<use href="#g" x="967.491"/>
<use href="#g" x="969.290"/>
<use href="#g" x="971.088"/>
<use href="#g" x="972.887"/>
<use href="#g" x="974.686"/>
<use href="#g" x="976.485"/>
<use href="#g" x="978.284"/>
<use href="#g" x="980.082"/>
<use href="#g" x="981.881"/>
<use href="#g" x="983.680"/>
<use href="#g" x="985.479"/>
<use href="#g" x="987.278"/>
<use href="#g" x="989.076"/>
<use href="#g" x="990.875"/>
<use href="#g" x="992.674"/>
<use href="#g" x="994.473"/>
<use href="#g" x="996.272"/>
<use href="#g" x="998.070"/>
<use href="#g" x="999.869"/>
<use href="#w" x="1001.668"/>
<use href="#g" x="1003.467"/>
<use href="#g" x="1005.266"/>
<use href="#g" x="1007.064"/>
<use href="#g" x="1008.863"/>
<use href="#g" x="1010.662"/>
<use href="#g" x="1012.461"/>
<use href="#g" x="1014.260"/>
<use href="#g" x="1016.058"/>
<use href="#g" x="1017.857"/>
<use href="#g" x="1019.656"/>
<use href="#g" x="1021.455"/>
<use href="#g" x="1023.254"/>
<use href="#g" x="1025.052"/>
<use href="#g" x="1026.851"/>
<use href="#g" x="1028.650"/>
<use href="#g" x="1030.449"/>
<use href="#g" x="1032.248"/>
<use href="#g" x="1034.046"/>
<use href="#g" x="1035.845"/>
<use href="#g" x="1037.644"/>
<use href="#g" x="1039.443"/>
<use href="#g" x="1041.242"/>
<use href="#g" x="1043.040"/>
<use href="#g" x="1044.839"/>
<use href="#g" x="1046.638"/>
<use href="#g" x="1048.437"/>
<use href="#g" x="1050.236"/>
<use href="#g" x="1052.034"/>
<use href="#g" x="1053.833"/>
<use href="#g" x="1055.632"/>
<use href="#g" x="1057.431"/>
<use href="#g" x="1059.230"/>
<use href="#g" x="1061.028"/>
<use href="#g" x="1062.827"/>
<use href="#g" x="1064.626"/>
<use href="#g" x="1066.425"/>
<use href="#g" x="1068.224"/>
<use href="#g" x="1070.022"/>
<use href="#g" x="1071.821"/>
<use href="#g" x="1073.620"/>
<use href="#g" x="1075.419"/>
<use href="#g" x="1077.218"/>
<use href="#g" x="1079.016"/>
<use href="#g" x="1080.815"/>
<use href="#g" x="1082.614"/>
<use href="#g" x="1084.413"/>
<use href="#g" x="1086.212"/>
<use href="#g" x="1088.010"/>
<use href="#g" x="1089.809"/>
<use href="#g" x="1091.608"/>
<use href="#g" x="1093.407"/>
<use href="#g" x="1095.206"/>
<use href="#g" x="1097.004"/>
<use href="#g" x="1098.803"/>
<use href="#g" x="1100.602"/>
<use href="#g" x="1102.401"/>
<use href="#g" x="1104.200"/>
<use href="#g" x="1105.998"/>
<use href="#g" x="1107.797"/>
<use href="#g" x="1109.596"/>
<use href="#g" x="1111.395"/>
<use href="#g" x="1113.194"/>
<use href="#g" x="1114.992"/>
<use href="#g" x="1116.791"/>
<use href="#g" x="1118.590"/>
<use href="#g" x="1120.389"/>
<use href="#g" x="1122.188"/>
<use href="#g" x="1123.986"/>
<use href="#g" x="1125.785"/>
<use href="#g" x="1127.584"/>
<use href="#g" x="1129.383"/>
<use href="#g" x="1131.182"/>
<use href="#g" x="1132.980"/>
<use href="#g" x="1134.779"/>
<use href="#g" x="1136.578"/>
<use href="#g" x="1138.377"/>
<use href="#g" x="1140.176"/>
<use href="#g" x="1141.974"/>
<use href="#g" x="1143.773"/>
<use href="#g" x="1145.572"/>
<use href="#g" x="1147.371"/>
<use href="#g" x="1149.170"/>
<use href="#g" x="1150.968"/>
<use href="#g" x="1152.767"/>
<use href="#g" x="1154.566"/>
<use href="#g" x="1156.365"/>
<use href="#g" x="1158.164"/>
<use href="#g" x="1159.962"/>
<use href="#g" x="1161.761"/>
<use href="#g" x="1163.560"/>
<use href="#g" x="1165.359"/>
<use href="#g" x="1167.158"/>
<use href="#g" x="1168.956"/>
<use href="#g" x="1170.755"/>
<use href="#g" x="1172.554"/>
<use href="#g" x="1174.353"/>
<use href="#g" x="1176.152"/>
<use href="#g" x="1177.950"/>
<use href="#g" x="1179.749"/>
</g>
<g transform="translate(0 180.5714)">
<use href="#g" x="129.250"/>
<use href="#w" x="131.049"/>
<use href="#g" x="132.848"/>
<use href="#g" x="134.646"/>
<use href="#g" x="136.445"/>
<use href="#g" x="138.244"/>
<use href="#g" x="140.043"/>
<use href="#g" x="141.842"/>
<use href="#g" x="143.640"/>
<use href="#g" x="145.439"/>
<use href="#g" x="147.238"/>
<use href="#g" x="149.037"/>
<use href="#g" x="150.836"/>
<use href="#g" x="152.634"/>
<use href="#g" x="154.433"/>
<use href="#g" x="156.232"/>
<use href="#g" x="158.031"/>
<use href="#g" x="159.830"/>
<use href="#g" x="161.628"/>
<use href="#g" x="163.427"/>
<use href="#g" x="165.226"/>
<use href="#g" x="167.025"/>
<use href="#g" x="168.824"/>
<use href="#g" x="170.622"/>
<use href="#g" x="172.421"/>
<use href="#g" x="174.220"/>
<use href="#g" x="176.019"/>
<use href="#g" x="177.818"/>
<use href="#g" x="179.616"/>
<use href="#g" x="181.415"/>
<use href="#g" x="183.214"/>
<use href="#g" x="185.013"/>
<use href="#g" x="186.812"/>
<use href="#g" x="188.610"/>
<use href="#g" x="190.409"/>
<use href="#g" x="192.208"/>
<use href="#g" x="194.007"/>
<use href="#g" x="195.806"/>
<use href="#g" x="197.604"/>
<use href="#g" x="199.403"/>
<use href="#g" x="201.202"/>
<use href="#w" x="203.001"/>
<use href="#g" x="204.800"/>
<use href="#w" x="206.598"/>
<use href="#g" x="208.397"/>
<use href="#g" x="210.196"/>
<use href="#g" x="211.995"/>
<use href="#w" x="213.794"/>
<use href="#g" x="215.592"/>
<use href="#g" x="217.391"/>
<use href="#g" x="219.190"/>
<use href="#g" x="220.989"/>
<use href="#g" x="222.788"/>
<use href="#g" x="224.586"/>
<use href="#g" x="226.385"/>
<use href="#g" x="228.184"/>
<use href="#g" x="229.983"/>
<use href="#g" x="231.782"/>
<use href="#g" x="233.580"/>
<use href="#w" x="235.379"/>
<use href="#g" x="237.178"/>
<use href="#g" x="238.977"/>
<use href="#g" x="240.776"/>
<use href="#g" x="242.574"/>
<use href="#w" x="244.373"/>
<use href="#g" x="246.172"/>
<use href="#g" x="247.971"/>
<use href="#g" x="249.770"/>
<use href="#g" x="251.568"/>
<use href="#w" x="253.367"/>
<use href="#w" x="255.166"/>
<use href="#g" x="256.965"/>
<use href="#g" x="258.764"/>
<use href="#w" x="260.562"/>
<use href="#w" x="262.361"/>
<use href="#w" x="264.160"/>
<use href="#g" x="265.959"/>
<use href="#g" x="267.758"/>
<use href="#g" x="269.556"/>
<use href="#g" x="271.355"/>
<use href="#g" x="273.154"/>
<use href="#w" x="274.953"/>
<use href="#g" x="276.752"/>
<use href="#g" x="278.550"/>
<use href="#g" x="280.349"/>
<use href="#g" x="282.148"/>
<use href="#g" x="283.947"/>
<use href="#g" x="285.746"/>
<use href="#g" x="287.544"/>
<use href="#g" x="289.343"/>
<use href="#g" x="291.142"/>
<use href="#g" x="292.941"/>
<use href="#g" x="294.740"/>
<use href="#g" x="296.538"/>
<use href="#g" x="298.337"/>
<use href="#g" x="300.136"/>
<use href="#g" x="301.935"/>
<use href="#g" x="303.734"/>
<use href="#g" x="305.532"/>
<use href="#g" x="307.331"/>
<use href="#g" x="309.130"/>
<use href="#g" x="310.929"/>
<use href="#g" x="312.728"/>
<use href="#g" x="314.526"/>
<use href="#g" x="316.325"/>
<use href="#g" x="318.124"/>
<use href="#g" x="319.923"/>
<use href="#g" x="321.722"/>
<use href="#g" x="323.520"/>
<use href="#g" x="325.319"/>
<use href="#g" x="327.118"/>
<use href="#g" x="328.917"/>
<use href="#g" x="330.716"/>
<use href="#g" x="332.514"/>
<use href="#g" x="334.313"/>
<use href="#g" x="336.112"/>
<use href="#g" x="337.911"/>
<use href="#g" x="339.710"/>
<use href="#g" x="341.508"/>
<use href="#w" x="343.307"/>
<use href="#g" x="345.106"/>
<use href="#g" x="346.905"/>
<use href="#g" x="348.704"/>
<use href="#g" x="350.502"/>
<use href="#g" x="352.301"/>
<use href="#g" x="354.100"/>
<use href="#g" x="355.899"/>
<use href="#g" x="357.698"/>
<use href="#g" x="359.496"/>
<use href="#g" x="361.295"/>
<use href="#g" x="363.094"/>
<use href="#g" x="364.893"/>
<use href="#g" x="366.692"/>
<use href="#g" x="368.490"/>
<use href="#g" x="370.289"/>
<use href="#g" x="372.088"/>
<use href="#g" x="373.887"/>
<use href="#g" x="375.686"/>
<use href="#g" x="377.484"/>
<use href="#g" x="379.283"/>
<use href="#g" x="381.082"/>
<use href="#g" x="382.881"/>
<use href="#g" x="384.680"/>
<use href="#g" x="386.478"/>
<use href="#g" x="388.277"/>
<use href="#g" x="390.076"/>
<use href="#g" x="391.875"/>
<use href="#g" x="393.674"/>
<use href="#g" x="395.472"/>
<use href="#g" x="397.271"/>
<use href="#g" x="399.070"/>
<use href="#g" x="400.869"/>
<use href="#g" x="402.668"/>
<use href="#g" x="404.466"/>
<use href="#g" x="406.265"/>
<use href="#g" x="408.064"/>
<use href="#g" x="409.863"/>
<use href="#g" x="411.662"/>
<use href="#g" x="413.460"/>
<use href="#g" x="415.259"/>
<use href="#g" x="417.058"/>
<use href="#g" x="418.857"/>
<use href="#g" x="420.656"/>
<use href="#g" x="422.454"/>
<use href="#g" x="424.253"/>
<use href="#g" x="426.052"/>
<use href="#g" x="427.851"/>
<use href="#g" x="429.650"/>
<use href="#g" x="431.448"/>
<use href="#g" x="433.247"/>
<use href="#g" x="435.046"/>
<use href="#g" x="436.845"/>
<use href="#g" x="438.644"/>
<use href="#g" x="440.442"/>
<use href="#g" x="442.241"/>
<use href="#g" x="444.040"/>
<use href="#g" x="445.839"/>
<use href="#g" x="447.638"/>
<use href="#g" x="449.436"/>
<use href="#g" x="451.235"/>
<use href="#g" x="453.034"/>
<use href="#g" x="454.833"/>
<use href="#g" x="456.632"/>
<use href="#g" x="458.430"/>
<use href="#g" x="460.229"/>
<use href="#g" x="462.028"/>
<use href="#g" x="463.827"/>
<use href="#g" x="465.626"/>
<use href="#g" x="467.424"/>
<use href="#g" x="469.223"/>
<use href="#g" x="471.022"/>
<use href="#g" x="472.821"/>
<use href="#g" x="474.620"/>
<use href="#g" x="476.418"/>
<use href="#g" x="478.217"/>
<use href="#g" x="480.016"/>
<use href="#g" x="481.815"/>
<use href="#g" x="483.614"/>
<use href="#g" x="485.412"/>
<use href="#g" x="487.211"/>
<use href="#g" x="489.010"/>
<use href="#g" x="490.809"/>
<use href="#g" x="492.608"/>
<use href="#g" x="494.406"/>
<use href="#g" x="496.205"/>
<use href="#g" x="498.004"/>
<use href="#g" x="499.803"/>
<use href="#g" x="501.602"/>
<use href="#g" x="503.400"/>
<use href="#g" x="505.199"/>
<use href="#g" x="506.998"/>
<use href="#g" x="508.797"/>
<use href="#g" x="510.596"/>
<use href="#g" x="512.394"/>
<use href="#g" x="514.193"/>
<use href="#g" x="515.992"/>
<use href="#g" x="517.791"/>
<use href="#g" x="519.590"/>
<use href="#g" x="521.388"/>
<use href="#g" x="523.187"/>
<use href="#g" x="524.986"/>
<use href="#g" x="526.785"/>
<use href="#g" x="528.584"/>
<use href="#g" x="530.382"/>
<use href="#g" x="532.181"/>
<use href="#g" x="533.980"/>
<use href="#g" x="535.779"/>
<use href="#g" x="537.578"/>
<use href="#g" x="539.376"/>
<use href="#g" x="541.175"/>
<use href="#g" x="542.974"/>
<use href="#g" x="544.773"/>
<use href="#g" x="546.572"/>
<use href="#g" x="548.370"/>
<use href="#g" x="550.169"/>
<use href="#g" x="551.968"/>
<use href="#g" x="553.767"/>
<use href="#g" x="555.566"/>
<use href="#g" x="557.364"/>
<use href="#g" x="559.163"/>
<use href="#g" x="560.962"/>
<use href="#g" x="562.761"/>
<use href="#g" x="564.560"/>
<use href="#g" x="566.358"/>
<use href="#g" x="568.157"/>
<use href="#g" x="569.956"/>
<use href="#g" x="571.755"/>
<use href="#g" x="573.554"/>
<use href="#g" x="575.352"/>
<use href="#g" x="577.151"/>
<use href="#g" x="578.950"/>
<use href="#g" x="580.749"/>
<use href="#g" x="582.548"/>
<use href="#g" x="584.346"/>
<use href="#g" x="586.145"/>
<use href="#g" x="587.944"/>
<use href="#g" x="589.743"/>
<use href="#g" x="591.542"/>
<use href="#g" x="593.340"/>
<use href="#g" x="595.139"/>
<use href="#g" x="596.938"/>
<use href="#g" x="598.737"/>
<use href="#g" x="600.536"/>
<use href="#g" x="602.334"/>
<use href="#g" x="604.133"/>
<use href="#g" x="605.932"/>
<use href="#g" x="607.731"/>
<use href="#g" x="609.530"/>
<use href="#g" x="611.328"/>
<use href="#g" x="613.127"/>
<use href="#g" x="614.926"/>
<use href="#g" x="616.725"/>
<use href="#g" x="618.524"/>
<use href="#g" x="620.322"/>
<use href="#g" x="622.121"/>
<use href="#g" x="623.920"/>
<use href="#g" x="625.719"/>
<use href="#g" x="627.518"/>
<use href="#g" x="629.316"/>
<use href="#g" x="631.115"/>
<use href="#g" x="632.914"/>
<use href="#g" x="634.713"/>
<use href="#g" x="636.512"/>
<use href="#g" x="638.310"/>
<use href="#g" x="640.109"/>
<use href="#g" x="641.908"/>
<use href="#g" x="643.707"/>
<use href="#g" x="645.506"/>
<use href="#g" x="647.304"/>
<use href="#g" x="649.103"/>
<use href="#g" x="650.902"/>
<use href="#g" x="652.701"/>
<use href="#g" x="654.500"/>
<use href="#g" x="656.298"/>
<use href="#g" x="658.097"/>
<use href="#g" x="659.896"/>
<use href="#g" x="661.695"/>
<use href="#g" x="663.494"/>
<use href="#g" x="665.292"/>
<use href="#g" x="667.091"/>
<use href="#g" x="668.890"/>
<use href="#g" x="670.689"/>
<use href="#g" x="672.488"/>
<use href="#g" x="674.286"/>
<use href="#g" x="676.085"/>
<use href="#g" x="677.884"/>
<use href="#g" x="679.683"/>
<use href="#g" x="681.482"/>
<use href="#g" x="683.280"/>
<use href="#g" x="685.079"/>
<use href="#g" x="686.878"/>
<use href="#g" x="688.677"/>
<use href="#g" x="690.476"/>
<use href="#g" x="692.274"/>
<use href="#g" x="694.073"/>
<use href="#g" x="695.872"/>
<use href="#g" x="697.671"/>
<use href="#g" x="699.470"/>
<use href="#g" x="701.268"/>
<use href="#g" x="703.067"/>
<use href="#g" x="704.866"/>
<use href="#g" x="706.665"/>
<use href="#g" x="708.464"/>
<use href="#g" x="710.262"/>
<use href="#g" x="712.061"/>
<use href="#g" x="713.860"/>
<use href="#g" x="715.659"/>
<use href="#g" x="717.458"/>
<use href="#g" x="719.256"/>
<use href="#g" x="721.055"/>
<use href="#g" x="722.854"/>
<use href="#g" x="724.653"/>
<use href="#g" x="726.452"/>
<use href="#g" x="728.250"/>
<use href="#g" x="730.049"/>
<use href="#g" x="731.848"/>
<use href="#g" x="733.647"/>
<use href="#g" x="735.446"/>
<use href="#g" x="737.244"/>
<use href="#g" x="739.043"/>
<use href="#g" x="740.842"/>
<use href="#g" x="742.641"/>
<use href="#g" x="744.440"/>
<use href="#g" x="746.238"/>
<use href="#g" x="748.037"/>
<use href="#g" x="749.836"/>
<use href="#g" x="751.635"/>
<use href="#g" x="753.434"/>
<use href="#g" x="755.232"/>
<use href="#g" x="757.031"/>
<use href="#g" x="758.830"/>
<use href="#w" x="760.629"/>
<use href="#g" x="762.428"/>
<use href="#g" x="764.226"/>
<use href="#g" x="766.025"/>
<use href="#g" x="767.824"/>
<use href="#g" x="769.623"/>
<use href="#g" x="771.422"/>
<use href="#g" x="773.220"/>
<use href="#g" x="775.019"/>
<use href="#g" x="776.818"/>
<use href="#g" x="778.617"/>
<use href="#g" x="780.416"/>
<use href="#g" x="782.214"/>
<use href="#g" x="784.013"/>
<use href="#g" x="785.812"/>
<use href="#g" x="787.611"/>
<use href="#g" x="789.410"/>
<use href="#g" x="791.208"/>
<use href="#w" x="793.007"/>
<use href="#g" x="794.806"/>
<use href="#g" x="796.605"/>
<use href="#g" x="798.404"/>
<use href="#g" x="800.202"/>
<use href="#g" x="802.001"/>
<use href="#g" x="803.800"/>
<use href="#g" x="805.599"/>
<use href="#g" x="807.398"/>
<use href="#g" x="809.196"/>
<use href="#g" x="810.995"/>
<use href="#g" x="812.794"/>
<use href="#g" x="814.593"/>
<use href="#g" x="816.392"/>
<use href="#g" x="818.190"/>
<use href="#g" x="819.989"/>
<use href="#g" x="821.788"/>
<use href="#g" x="823.587"/>
<use href="#g" x="825.386"/>
<use href="#g" x="827.184"/>
<use href="#g" x="828.983"/>
<use href="#g" x="830.782"/>
<use href="#g" x="832.581"/>
<use href="#g" x="834.380"/>
<use href="#g" x="836.178"/>
<use href="#g" x="837.977"/>
<use href="#g" x="839.776"/>
<use href="#g" x="841.575"/>
<use href="#g" x="843.374"/>
<use href="#g" x="845.172"/>
<use href="#g" x="846.971"/>
<use href="#g" x="848.770"/>
<use href="#w" x="850.569"/>
<use href="#g" x="852.368"/>
<use href="#g" x="854.166"/>
<use href="#g" x="855.965"/>
<use href="#g" x="857.764"/>
<use href="#g" x="859.563"/>
<use href="#g" x="861.362"/>
<use href="#g" x="863.160"/>
<use href="#g" x="864.959"/>
<use href="#g" x="866.758"/>
<use href="#g" x="868.557"/>
<use href="#g" x="870.356"/>
<use href="#g" x="872.154"/>
<use href="#g" x="873.953"/>
<use href="#g" x="875.752"/>
<use href="#g" x="877.551"/>
<use href="#g" x="879.350"/>
<use href="#g" x="881.148"/>
<use href="#g" x="882.947"/>
<use href="#g" x="884.746"/>
<use href="#g" x="886.545"/>
<use href="#g" x="888.344"/>
<use href="#g" x="890.142"/>
<use href="#g" x="891.941"/>
<use href="#g" x="893.740"/>
<use href="#g" x="895.539"/>
<use href="#g" x="897.338"/>
<use href="#g" x="899.136"/>
<use href="#g" x="900.935"/>
<use href="#g" x="902.734"/>
<use href="#g" x="904.533"/>
<use href="#g" x="906.332"/>
<use href="#g" x="908.130"/>
<use href="#g" x="909.929"/>
<use href="#g" x="911.728"/>
<use href="#g" x="913.527"/>
<use href="#g" x="915.326"/>
<use href="#g" x="917.124"/>
<use href="#g" x="918.923"/>
<use href="#g" x="920.722"/>
<use href="#g" x="922.521"/>
<use href="#g" x="924.320"/>
<use href="#g" x="926.118"/>
<use href="#g" x="927.917"/>
<use href="#g" x="929.716"/>
<use href="#g" x="931.515"/>
<use href="#g" x="933.314"/>
<use href="#g" x="935.112"/>
<use href="#g" x="936.911"/>
<use href="#g" x="938.710"/>
<use href="#g" x="940.509"/>
<use href="#g" x="942.308"/>
<use href="#g" x="944.106"/>
<use href="#g" x="945.905"/>
<use href="#g" x="947.704"/>
<use href="#g" x="949.503"/>
<use href="#g" x="951.302"/>
<use href="#g" x="953.100"/>
<use href="#g" x="954.899"/>
<use href="#g" x="956.698"/>
<use href="#g" x="958.497"/>
<use href="#g" x="960.296"/>
<use href="#g" x="962.094"/>
<use href="#g" x="963.893"/>
<use href="#g" x="965.692"/>
<use href="#g" x="967.491"/>
<use href="#g" x="969.290"/>
<use href="#g" x="971.088"/>
<use href="#g" x="972.887"/>
<use href="#g" x="974.686"/>
<use href="#g" x="976.485"/>
<use href="#g" x="978.284"/>
<use href="#g" x="980.082"/>
<use href="#g" x="981.881"/>
<use href="#g" x="983.680"/>
<use href="#g" x="985.479"/>
<use href="#g" x="987.278"/>
<use href="#g" x="989.076"/>
<use href="#g" x="990.875"/>
<use href="#g" x="992.674"/>
<use href="#g" x="994.473"/>
<use href="#g" x="996.272"/>
<use href="#g" x="998.070"/>
<use href="#g" x="999.869"/>
<use href="#g" x="1001.668"/>
<use href="#g" x="1003.467"/>
<use href="#g" x="1005.266"/>
<use href="#g" x="1007.064"/>
<use href="#g" x="1008.863"/>
<use href="#g" x="1010.662"/>
<use href="#g" x="1012.461"/>
<use href="#g" x="1014.260"/>
<use href="#g" x="1016.058"/>
<use href="#g" x="1017.857"/>
<use href="#g" x="1019.656"/>
<use href="#g" x="1021.455"/>
<use href="#g" x="1023.254"/>
<use href="#g" x="1025.052"/>
<use href="#g" x="1026.851"/>
<use href="#g" x="1028.650"/>
<use href="#g" x="1030.449"/>
<use href="#g" x="1032.248"/>
<use href="#g" x="1034.046"/>
<use href="#g" x="1035.845"/>
<use href="#g" x="1037.644"/>
<use href="#g" x="1039.443"/>
<use href="#g" x="1041.242"/>
<use href="#g" x="1043.040"/>
<use href="#g" x="1044.839"/>
<use href="#g" x="1046.638"/>
<use href="#g" x="1048.437"/>
<use href="#g" x="1050.236"/>
<use href="#g" x="1052.034"/>
<use href="#g" x="1053.833"/>
<use href="#g" x="1055.632"/>
<use href="#g" x="1057.431"/>
<use href="#g" x="1059.230"/>
<use href="#g" x="1061.028"/>
<use href="#g" x="1062.827"/>
<use href="#g" x="1064.626"/>
<use href="#g" x="1066.425"/>
<use href="#g" x="1068.224"/>
<use href="#g" x="1070.022"/>
<use href="#g" x="1071.821"/>
<use href="#g" x="1073.620"/>
<use href="#g" x="1075.419"/>
<use href="#g" x="1077.218"/>
<use href="#g" x="1079.016"/>
<use href="#g" x="1080.815"/>
<use href="#g" x="1082.614"/>
<use href="#g" x="1084.413"/>
<use href="#g" x="1086.212"/>
<use href="#g" x="1088.010"/>
<use href="#g" x="1089.809"/>
<use href="#g" x="1091.608"/>
<use href="#g" x="1093.407"/>
<use href="#g" x="1095.206"/>
<use href="#g" x="1097.004"/>
<use href="#g" x="1098.803"/>
<use href="#g" x="1100.602"/>
<use href="#g" x="1102.401"/>
<use href="#g" x="1104.200"/>
<use href="#g" x="1105.998"/>
<use href="#g" x="1107.797"/>
<use href="#g" x="1109.596"/>
<use href="#g" x="1111.395"/>
<use href="#g" x="1113.194"/>
<use href="#g" x="1114.992"/>
<use href="#g" x="1116.791"/>
<use href="#g" x="1118.590"/>
<use href="#g" x="1120.389"/>
<use href="#g" x="1122.188"/>
<use href="#g" x="1123.986"/>
<use href="#g" x="1125.785"/>
<use href="#g" x="1127.584"/>
<use href="#g" x="1129.383"/>
<use href="#g" x="1131.182"/>
<use href="#g" x="1132.980"/>
<use href="#g" x="1134.779"/>
<use href="#g" x="1136.578"/>
<use href="#g" x="1138.377"/>
<use href="#g" x="1140.176"/>
<use href="#g" x="1141.974"/>
<use href="#g" x="1143.773"/>
<use href="#g" x="1145.572"/>
<use href="#g" x="1147.371"/>
<use href="#g" x="1149.170"/>
<use href="#g" x="1150.968"/>
<use href="#g" x="1152.767"/>
<use href="#g" x="1154.566"/>
<use href="#g" x="1156.365"/>
<use href="#g" x="1158.164"/>
<use href="#g" x="1159.962"/>
<use href="#g" x="1161.761"/>
<use href="#g" x="1163.560"/>
<use href="#g" x="1165.359"/>
<use href="#g" x="1167.158"/>
<use href="#g" x="1168.956"/>
<use href="#g" x="1170.755"/>
<use href="#g" x="1172.554"/>
<use href="#g" x="1174.353"/>
<use href="#g" x="1176.152"/>
<use href="#g" x="1177.950"/>
<use href="#g" x="1179.749"/>
</g>
<g transform="translate(0 253.8571)">
<use href="#g" x="129.250"/>
<use href="#g" x="131.049"/>
<use href="#g" x="132.848"/>
<use href="#g" x="134.646"/>
<use href="#g" x="136.445"/>
<use href="#g" x="138.244"/>
<use href="#g" x="140.043"/>
<use href="#g" x="141.842"/>
<use href="#g" x="143.640"/>
<use href="#g" x="145.439"/>
<use href="#g" x="147.238"/>
<use href="#g" x="149.037"/>
<use href="#g" x="150.836"/>
<use href="#g" x="152.634"/>
<use href="#g" x="154.433"/>
<use href="#g" x="156.232"/>
<use href="#g" x="158.031"/>
<use href="#g" x="159.830"/>
<use href="#g" x="161.628"/>
<use href="#g" x="163.427"/>
<use href="#g" x="165.226"/>
<use href="#g" x="167.025"/>
<use href="#g" x="168.824"/>
<use href="#g" x="170.622"/>
<use href="#g" x="172.421"/>
<use href="#g" x="174.220"/>
<use href="#g" x="176.019"/>
<use href="#g" x="177.818"/>
<use href="#g" x="179.616"/>
<use href="#g" x="181.415"/>
<use href="#g" x="183.214"/>
<use href="#g" x="185.013"/>
<use href="#g" x="186.812"/>
<use href="#g" x="188.610"/>
<use href="#g" x="190.409"/>
<use href="#w" x="192.208"/>
<use href="#w" x="194.007"/>
<use href="#w" x="195.806"/>
<use href="#w" x="197.604"/>
<use href="#w" x="199.403"/>
<use href="#w" x="201.202"/>
<use href="#w" x="203.001"/>
<use href="#w" x="204.800"/>
<use href="#w" x="206.598"/>
<use href="#w" x="208.397"/>
<use href="#w" x="210.196"/>
<use href="#w" x="211.995"/>
<use href="#w" x="213.794"/>
<use href="#w" x="215.592"/>
<use href="#w" x="217.391"/>
<use href="#w" x="219.190"/>
<use href="#w" x="220.989"/>
<use href="#w" x="222.788"/>
<use href="#w" x="224.586"/>
<use href="#w" x="226.385"/>
<use href="#w" x="228.184"/>
<use href="#w" x="229.983"/>
<use href="#w" x="231.782"/>
<use href="#w" x="233.580"/>
<use href="#w" x="235.379"/>
<use href="#w" x="237.178"/>
<use href="#w" x="238.977"/>
<use href="#w" x="240.776"/>
<use href="#w" x="242.574"/>
<use href="#w" x="244.373"/>
<use href="#w" x="246.172"/>
<use href="#w" x="247.971"/>
<use href="#w" x="249.770"/>
<use href="#w" x="251.568"/>
<use href="#w" x="253.367"/>
<use href="#w" x="255.166"/>
<use href="#w" x="256.965"/>
<use href="#w" x="258.764"/>
<use href="#w" x="260.562"/>
<use href="#w" x="262.361"/>
<use href="#w" x="264.160"/>
<use href="#w" x="265.959"/>
<use href="#w" x="267.758"/>
<use href="#w" x="269.556"/>
<use href="#w" x="271.355"/>
<use href="#w" x="273.154"/>
<use href="#w" x="274.953"/>
<use href="#w" x="276.752"/>
<use href="#w" x="278.550"/>
<use href="#w" x="280.349"/>
<use href="#w" x="282.148"/>
<use href="#w" x="283.947"/>
<use href="#w" x="285.746"/>
<use href="#w" x="287.544"/>
<use href="#w" x="289.343"/>
<use href="#w" x="291.142"/>
<use href="#w" x="292.941"/>
<use href="#w" x="294.740"/>
<use href="#w" x="296.538"/>
<use href="#w" x="298.337"/>
<use href="#w" x="300.136"/>
<use href="#w" x="301.935"/>
<use href="#w" x="303.734"/>
<use href="#g" x="305.532"/>
<use href="#g" x="307.331"/>
<use href="#g" x="309.130"/>
<use href="#g" x="310.929"/>
<use href="#g" x="312.728"/>
<use href="#g" x="314.526"/>
<use href="#g" x="316.325"/>
<use href="#g" x="318.124"/>
<use href="#g" x="319.923"/>
<use href="#g" x="321.722"/>
<use href="#g" x="323.520"/>
<use href="#g" x="325.319"/>
<use href="#g" x="327.118"/>
<use href="#g" x="328.917"/>
<use href="#g" x="330.716"/>
<use href="#g" x="332.514"/>
<use href="#g" x="334.313"/>
<use href="#g" x="336.112"/>
<use href="#g" x="337.911"/>
<use href="#g" x="339.710"/>
<use href="#g" x="341.508"/>
<use href="#g" x="343.307"/>
<use href="#g" x="345.106"/>
<use href="#g" x="346.905"/>
<use href="#g" x="348.704"/>
<use href="#g" x="350.502"/>
<use href="#g" x="352.301"/>
<use href="#g" x="354.100"/>
<use href="#g" x="355.899"/>
<use href="#g" x="357.698"/>
<use href="#g" x="359.496"/>
<use href="#g" x="361.295"/>
<use href="#g" x="363.094"/>
<use href="#g" x="364.893"/>
<use href="#g" x="366.692"/>
<use href="#g" x="368.490"/>
<use href="#g" x="370.289"/>
<use href="#g" x="372.088"/>
<use href="#g" x="373.887"/>
<use href="#g" x="375.686"/>
<use href="#g" x="377.484"/>
<use href="#g" x="379.283"/>
<use href="#g" x="381.082"/>
<use href="#g" x="382.881"/>
<use href="#g" x="384.680"/>
<use href="#g" x="386.478"/>
<use href="#g" x="388.277"/>
<use href="#g" x="390.076"/>
<use href="#g" x="391.875"/>
<use href="#g" x="393.674"/>
<use href="#g" x="395.472"/>
<use href="#g" x="397.271"/>
<use href="#g" x="399.070"/>
<use href="#g" x="400.869"/>
<use href="#g" x="402.668"/>
<use href="#g" x="404.466"/>
<use href="#g" x="406.265"/>
<use href="#g" x="408.064"/>
<use href="#g" x="409.863"/>
<use href="#g" x="411.662"/>
<use href="#g" x="413.460"/>
<use href="#g" x="415.259"/>
<use href="#g" x="417.058"/>
<use href="#g" x="418.857"/>
<use href="#g" x="420.656"/>
<use href="#g" x="422.454"/>
<use href="#g" x="424.253"/>
<use href="#g" x="426.052"/>
<use href="#g" x="427.851"/>
<use href="#g" x="429.650"/>
<use href="#g" x="431.448"/>
<use href="#g" x="433.247"/>
<use href="#g" x="435.046"/>
<use href="#g" x="436.845"/>
<use href="#g" x="438.644"/>
<use href="#g" x="440.442"/>
<use href="#g" x="442.241"/>
<use href="#g" x="444.040"/>
<use href="#g" x="445.839"/>
<use href="#g" x="447.638"/>
<use href="#g" x="449.436"/>
<use href="#g" x="451.235"/>
<use href="#g" x="453.034"/>
<use href="#g" x="454.833"/>
<use href="#g" x="456.632"/>
<use href="#g" x="458.430"/>
<use href="#g" x="460.229"/>
<use href="#g" x="462.028"/>
<use href="#g" x="463.827"/>
<use href="#g" x="465.626"/>
<use href="#g" x="467.424"/>
<use href="#g" x="469.223"/>
<use href="#g" x="471.022"/>
<use href="#g" x="472.821"/>
<use href="#g" x="474.620"/>
<use href="#g" x="476.418"/>
<use href="#g" x="478.217"/>
<use href="#g" x="480.016"/>
<use href="#g" x="481.815"/>
<use href="#g" x="483.614"/>
<use href="#g" x="485.412"/>
<use href="#g" x="487.211"/>
<use href="#g" x="489.010"/>
<use href="#g" x="490.809"/>
<use href="#g" x="492.608"/>
<use href="#g" x="494.406"/>
<use href="#g" x="496.205"/>
<use href="#g" x="498.004"/>
<use href="#g" x="499.803"/>
<use href="#g" x="501.602"/>
<use href="#g" x="503.400"/>
<use href="#g" x="505.199"/>
<use href="#g" x="506.998"/>
<use href="#g" x="508.797"/>
<use href="#g" x="510.596"/>
<use href="#g" x="512.394"/>
<use href="#g" x="514.193"/>
<use href="#g" x="515.992"/>
<use href="#g" x="517.791"/>
<use href="#g" x="519.590"/>
<use href="#g" x="521.388"/>
<use href="#g" x="523.187"/>
<use href="#g" x="524.986"/>
<use href="#g" x="526.785"/>
<use href="#g" x="528.584"/>
<use href="#g" x="530.382"/>
<use href="#g" x="532.181"/>
<use href="#g" x="533.980"/>
<use href="#g" x="535.779"/>
<use href="#g" x="537.578"/>
<use href="#g" x="539.376"/>
<use href="#g" x="541.175"/>
<use href="#g" x="542.974"/>
<use href="#g" x="544.773"/>
<use href="#g" x="546.572"/>
<use href="#g" x="548.370"/>
<use href="#g" x="550.169"/>
<use href="#g" x="551.968"/>
<use href="#g" x="553.767"/>
<use href="#g" x="555.566"/>
<use href="#g" x="557.364"/>
<use href="#g" x="559.163"/>
<use href="#g" x="560.962"/>
<use href="#g" x="562.761"/>
<use href="#g" x="564.560"/>
<use href="#g" x="566.358"/>
<use href="#g" x="568.157"/>
<use href="#g" x="569.956"/>
<use href="#g" x="571.755"/>
<use href="#g" x="573.554"/>
<use href="#g" x="575.352"/>
<use href="#g" x="577.151"/>
<use href="#g" x="578.950"/>
<use href="#g" x="580.749"/>
<use href="#g" x="582.548"/>
<use href="#g" x="584.346"/>
<use href="#g" x="586.145"/>
<use href="#g" x="587.944"/>
<use href="#g" x="589.743"/>
<use href="#g" x="591.542"/>
<use href="#g" x="593.340"/>
<use href="#g" x="595.139"/>
<use href="#g" x="596.938"/>
<use href="#g" x="598.737"/>
<use href="#g" x="600.536"/>
<use href="#g" x="602.334"/>
<use href="#g" x="604.133"/>
<use href="#g" x="605.932"/>
<use href="#g" x="607.731"/>
<use href="#g" x="609.530"/>
<use href="#g" x="611.328"/>
<use href="#g" x="613.127"/>
<use href="#g" x="614.926"/>
<use href="#g" x="616.725"/>
<use href="#g" x="618.524"/>
<use href="#g" x="620.322"/>
<use href="#g" x="622.121"/>
<use href="#g" x="623.920"/>
<use href="#g" x="625.719"/>
<use href="#g" x="627.518"/>
<use href="#g" x="629.316"/>
<use href="#g" x="631.115"/>
<use href="#g" x="632.914"/>
<use href="#g" x="634.713"/>
<use href="#g" x="636.512"/>
<use href="#g" x="638.310"/>
<use href="#g" x="640.109"/>
<use href="#g" x="641.908"/>
<use href="#g" x="643.707"/>
<use href="#g" x="645.506"/>
<use href="#g" x="647.304"/>
<use href="#g" x="649.103"/>
<use href="#g" x="650.902"/>
<use href="#g" x="652.701"/>
<use href="#g" x="654.500"/>
<use href="#g" x="656.298"/>
<use href="#g" x="658.097"/>
<use href="#g" x="659.896"/>
<use href="#g" x="661.695"/>
<use href="#g" x="663.494"/>
<use href="#g" x="665.292"/>
<use href="#g" x="667.091"/>
<use href="#g" x="668.890"/>
<use href="#g" x="670.689"/>
<use href="#g" x="672.488"/>
<use href="#g" x="674.286"/>
<use href="#g" x="676.085"/>
<use href="#g" x="677.884"/>
<use href="#g" x="679.683"/>
<use href="#g" x="681.482"/>
<use href="#g" x="683.280"/>
<use href="#g" x="685.079"/>
<use href="#g" x="686.878"/>
<use href="#g" x="688.677"/>
<use href="#g" x="690.476"/>
<use href="#g" x="692.274"/>
<use href="#g" x="694.073"/>
<use href="#g" x="695.872"/>
<use href="#g" x="697.671"/>
<use href="#g" x="699.470"/>
<use href="#g" x="701.268"/>
<use href="#g" x="703.067"/>
<use href="#g" x="704.866"/>
<use href="#g" x="706.665"/>
<use href="#g" x="708.464"/>
<use href="#g" x="710.262"/>
<use href="#g" x="712.061"/>
<use href="#g" x="713.860"/>
<use href="#g" x="715.659"/>
<use href="#g" x="717.458"/>
<use href="#g" x="719.256"/>
<use href="#g" x="721.055"/>
<use href="#g" x="722.854"/>
<use href="#g" x="724.653"/>
<use href="#g" x="726.452"/>
<use href="#g" x="728.250"/>
<use href="#g" x="730.049"/>
<use href="#g" x="731.848"/>
<use href="#g" x="733.647"/>
<use href="#g" x="735.446"/>
<use href="#g" x="737.244"/>
<use href="#g" x="739.043"/>
<use href="#g" x="740.842"/>
<use href="#g" x="742.641"/>
<use href="#g" x="744.440"/>
<use href="#g" x="746.238"/>
<use href="#g" x="748.037"/>
<use href="#g" x="749.836"/>
<use href="#g" x="751.635"/>
<use href="#g" x="753.434"/>
<use href="#g" x="755.232"/>
<use href="#g" x="757.031"/>
<use href="#g" x="758.830"/>
<use href="#g" x="760.629"/>
<use href="#g" x="762.428"/>
<use href="#g" x="764.226"/>
<use href="#g" x="766.025"/>
<use href="#g" x="767.824"/>
<use href="#g" x="769.623"/>
<use href="#g" x="771.422"/>
<use href="#g" x="773.220"/>
<use href="#g" x="775.019"/>
<use href="#g" x="776.818"/>
<use href="#g" x="778.617"/>
<use href="#g" x="780.416"/>
<use href="#g" x="782.214"/>
<use href="#g" x="784.013"/>
<use href="#g" x="785.812"/>
<use href="#g" x="787.611"/>
<use href="#g" x="789.410"/>
<use href="#g" x="791.208"/>
<use href="#g" x="793.007"/>
<use href="#g" x="794.806"/>
<use href="#g" x="796.605"/>
<use href="#g" x="798.404"/>
<use href="#g" x="800.202"/>
<use href="#g" x="802.001"/>
<use href="#g" x="803.800"/>
<use href="#g" x="805.599"/>
<use href="#g" x="807.398"/>
<use href="#g" x="809.196"/>
<use href="#g" x="810.995"/>
<use href="#g" x="812.794"/>
<use href="#g" x="814.593"/>
<use href="#g" x="816.392"/>
<use href="#g" x="818.190"/>
<use href="#g" x="819.989"/>
<use href="#g" x="821.788"/>
<use href="#g" x="823.587"/>
<use href="#g" x="825.386"/>
<use href="#g" x="827.184"/>
<use href="#g" x="828.983"/>
<use href="#g" x="830.782"/>
<use href="#g" x="832.581"/>
<use href="#g" x="834.380"/>
<use href="#g" x="836.178"/>
<use href="#g" x="837.977"/>
<use href="#g" x="839.776"/>
<use href="#g" x="841.575"/>
<use href="#g" x="843.374"/>
<use href="#g" x="845.172"/>
<use href="#g" x="846.971"/>
<use href="#g" x="848.770"/>
<use href="#g" x="850.569"/>
<use href="#g" x="852.368"/>
<use href="#g" x="854.166"/>
<use href="#g" x="855.965"/>
<use href="#g" x="857.764"/>
<use href="#g" x="859.563"/>
<use href="#g" x="861.362"/>
<use href="#g" x="863.160"/>
<use href="#g" x="864.959"/>
<use href="#g" x="866.758"/>
<use href="#g" x="868.557"/>
<use href="#g" x="870.356"/>
<use href="#g" x="872.154"/>
<use href="#g" x="873.953"/>
<use href="#g" x="875.752"/>
<use href="#g" x="877.551"/>
<use href="#g" x="879.350"/>
<use href="#g" x="881.148"/>
<use href="#g" x="882.947"/>
<use href="#g" x="884.746"/>
<use href="#g" x="886.545"/>
<use href="#g" x="888.344"/>
<use href="#g" x="890.142"/>
<use href="#g" x="891.941"/>
<use href="#g" x="893.740"/>
<use href="#g" x="895.539"/>
<use href="#g" x="897.338"/>
<use href="#g" x="899.136"/>
<use href="#g" x="900.935"/>
<use href="#g" x="902.734"/>
<use href="#g" x="904.533"/>
<use href="#g" x="906.332"/>
<use href="#g" x="908.130"/>
<use href="#g" x="909.929"/>
<use href="#g" x="911.728"/>
<use href="#g" x="913.527"/>
<use href="#g" x="915.326"/>
<use href="#g" x="917.124"/>
<use href="#g" x="918.923"/>
<use href="#g" x="920.722"/>
<use href="#g" x="922.521"/>
<use href="#g" x="924.320"/>
<use href="#g" x="926.118"/>
<use href="#g" x="927.917"/>
<use href="#g" x="929.716"/>
<use href="#g" x="931.515"/>
<use href="#g" x="933.314"/>
<use href="#g" x="935.112"/>
<use href="#g" x="936.911"/>
<use href="#g" x="938.710"/>
<use href="#g" x="940.509"/>
<use href="#g" x="942.308"/>
<use href="#g" x="944.106"/>
<use href="#g" x="945.905"/>
<use href="#g" x="947.704"/>
<use href="#g" x="949.503"/>
<use href="#g" x="951.302"/>
<use href="#g" x="953.100"/>
<use href="#g" x="954.899"/>
<use href="#g" x="956.698"/>
<use href="#g" x="958.497"/>
<use href="#g" x="960.296"/>
<use href="#g" x="962.094"/>
<use href="#g" x="963.893"/>
<use href="#g" x="965.692"/>
<use href="#g" x="967.491"/>
<use href="#g" x="969.290"/>
<use href="#g" x="971.088"/>
<use href="#g" x="972.887"/>
<use href="#g" x="974.686"/>
<use href="#g" x="976.485"/>
<use href="#g" x="978.284"/>
<use href="#g" x="980.082"/>
<use href="#g" x="981.881"/>
<use href="#g" x="983.680"/>
<use href="#g" x="985.479"/>
<use href="#g" x="987.278"/>
<use href="#g" x="989.076"/>
<use href="#g" x="990.875"/>
<use href="#g" x="992.674"/>
<use href="#g" x="994.473"/>
<use href="#g" x="996.272"/>
<use href="#g" x="998.070"/>
<use href="#g" x="999.869"/>
<use href="#g" x="1001.668"/>
<use href="#g" x="1003.467"/>
<use href="#g" x="1005.266"/>
<use href="#g" x="1007.064"/>
<use href="#g" x="1008.863"/>
<use href="#g" x="1010.662"/>
<use href="#g" x="1012.461"/>
<use href="#g" x="1014.260"/>
<use href="#g" x="1016.058"/>
<use href="#g" x="1017.857"/>
<use href="#g" x="1019.656"/>
<use href="#g" x="1021.455"/>
<use href="#g" x="1023.254"/>
<use href="#g" x="1025.052"/>
<use href="#g" x="1026.851"/>
<use href="#g" x="1028.650"/>
<use href="#g" x="1030.449"/>
<use href="#g" x="1032.248"/>
<use href="#g" x="1034.046"/>
<use href="#g" x="1035.845"/>
<use href="#g" x="1037.644"/>
<use href="#g" x="1039.443"/>
<use href="#g" x="1041.242"/>
<use href="#g" x="1043.040"/>
<use href="#g" x="1044.839"/>
<use href="#g" x="1046.638"/>
<use href="#g" x="1048.437"/>
<use href="#g" x="1050.236"/>
<use href="#g" x="1052.034"/>
<use href="#g" x="1053.833"/>
<use href="#g" x="1055.632"/>
<use href="#g" x="1057.431"/>
<use href="#g" x="1059.230"/>
<use href="#g" x="1061.028"/>
<use href="#g" x="1062.827"/>
<use href="#g" x="1064.626"/>
<use href="#g" x="1066.425"/>
<use href="#g" x="1068.224"/>
<use href="#g" x="1070.022"/>
<use href="#g" x="1071.821"/>
<use href="#g" x="1073.620"/>
<use href="#g" x="1075.419"/>
<use href="#g" x="1077.218"/>
<use href="#g" x="1079.016"/>
<use href="#g" x="1080.815"/>
<use href="#g" x="1082.614"/>
<use href="#g" x="1084.413"/>
<use href="#g" x="1086.212"/>
<use href="#g" x="1088.010"/>
<use href="#g" x="1089.809"/>
<use href="#g" x="1091.608"/>
<use href="#g" x="1093.407"/>
<use href="#g" x="1095.206"/>
<use href="#g" x="1097.004"/>
<use href="#g" x="1098.803"/>
<use href="#g" x="1100.602"/>
<use href="#g" x="1102.401"/>
<use href="#g" x="1104.200"/>
<use href="#g" x="1105.998"/>
<use href="#g" x="1107.797"/>
<use href="#g" x="1109.596"/>
<use href="#g" x="1111.395"/>
<use href="#g" x="1113.194"/>
<use href="#g" x="1114.992"/>
<use href="#g" x="1116.791"/>
<use href="#g" x="1118.590"/>
<use href="#g" x="1120.389"/>
<use href="#g" x="1122.188"/>
<use href="#g" x="1123.986"/>
<use href="#g" x="1125.785"/>
<use href="#g" x="1127.584"/>
<use href="#g" x="1129.383"/>
<use href="#g" x="1131.182"/>
<use href="#g" x="1132.980"/>
<use href="#g" x="1134.779"/>
<use href="#g" x="1136.578"/>
<use href="#g" x="1138.377"/>
<use href="#g" x="1140.176"/>
<use href="#g" x="1141.974"/>
<use href="#g" x="1143.773"/>
<use href="#g" x="1145.572"/>
<use href="#g" x="1147.371"/>
<use href="#g" x="1149.170"/>
<use href="#g" x="1150.968"/>
<use href="#g" x="1152.767"/>
<use href="#g" x="1154.566"/>
<use href="#g" x="1156.365"/>
<use href="#g" x="1158.164"/>
<use href="#g" x="1159.962"/>
<use href="#g" x="1161.761"/>
<use href="#g" x="1163.560"/>
<use href="#g" x="1165.359"/>
<use href="#g" x="1167.158"/>
<use href="#g" x="1168.956"/>
<use href="#g" x="1170.755"/>
<use href="#g" x="1172.554"/>
<use href="#g" x="1174.353"/>
<use href="#g" x="1176.152"/>
<use href="#g" x="1177.950"/>
<use href="#g" x="1179.749"/>
</g>
<g transform="translate(0 327.1429)">
<use href="#g" x="129.250"/>
<use href="#w" x="131.049"/>
<use href="#g" x="132.848"/>
<use href="#g" x="134.646"/>
<use href="#g" x="136.445"/>
<use href="#g" x="138.244"/>
<use href="#g" x="140.043"/>
<use href="#g" x="141.842"/>
<use href="#g" x="143.640"/>
<use href="#g" x="145.439"/>
<use href="#g" x="147.238"/>
<use href="#g" x="149.037"/>
<use href="#g" x="150.836"/>
<use href="#g" x="152.634"/>
<use href="#g" x="154.433"/>
<use href="#g" x="156.232"/>
<use href="#g" x="158.031"/>
<use href="#g" x="159.830"/>
<use href="#g" x="161.628"/>
<use href="#g" x="163.427"/>
<use href="#g" x="165.226"/>
<use href="#g" x="167.025"/>
<use href="#g" x="168.824"/>
<use href="#g" x="170.622"/>
<use href="#g" x="172.421"/>
<use href="#g" x="174.220"/>
<use href="#g" x="176.019"/>
<use href="#g" x="177.818"/>
<use href="#g" x="179.616"/>
<use href="#g" x="181.415"/>
<use href="#g" x="183.214"/>
<use href="#g" x="185.013"/>
<use href="#g" x="186.812"/>
<use href="#g" x="188.610"/>
<use href="#g" x="190.409"/>
<use href="#w" x="192.208"/>
<use href="#w" x="194.007"/>
<use href="#w" x="195.806"/>
<use href="#w" x="197.604"/>
<use href="#w" x="199.403"/>
<use href="#w" x="201.202"/>
<use href="#w" x="203.001"/>
<use href="#w" x="204.800"/>
<use href="#w" x="206.598"/>
<use href="#w" x="208.397"/>
<use href="#w" x="210.196"/>
<use href="#w" x="211.995"/>
<use href="#w" x="213.794"/>
<use href="#w" x="215.592"/>
<use href="#w" x="217.391"/>
<use href="#w" x="219.190"/>
<use href="#w" x="220.989"/>
<use href="#w" x="222.788"/>
<use href="#w" x="224.586"/>
<use href="#w" x="226.385"/>
<use href="#w" x="228.184"/>
<use href="#w" x="229.983"/>
<use href="#w" x="231.782"/>
<use href="#w" x="233.580"/>
<use href="#w" x="235.379"/>
<use href="#w" x="237.178"/>
<use href="#w" x="238.977"/>
<use href="#w" x="240.776"/>
<use href="#w" x="242.574"/>
<use href="#w" x="244.373"/>
<use href="#w" x="246.172"/>
<use href="#w" x="247.971"/>
<use href="#w" x="249.770"/>
<use href="#w" x="251.568"/>
<use href="#w" x="253.367"/>
<use href="#w" x="255.166"/>
<use href="#w" x="256.965"/>
<use href="#w" x="258.764"/>
<use href="#w" x="260.562"/>
<use href="#w" x="262.361"/>
<use href="#w" x="264.160"/>
<use href="#w" x="265.959"/>
<use href="#w" x="267.758"/>
<use href="#w" x="269.556"/>
<use href="#w" x="271.355"/>
<use href="#w" x="273.154"/>
<use href="#w" x="274.953"/>
<use href="#w" x="276.752"/>
<use href="#w" x="278.550"/>
<use href="#w" x="280.349"/>
<use href="#w" x="282.148"/>
<use href="#w" x="283.947"/>
<use href="#w" x="285.746"/>
<use href="#w" x="287.544"/>
<use href="#w" x="289.343"/>
<use href="#w" x="291.142"/>
<use href="#w" x="292.941"/>
<use href="#w" x="294.740"/>
<use href="#w" x="296.538"/>
<use href="#w" x="298.337"/>
<use href="#w" x="300.136"/>
<use href="#w" x="301.935"/>
<use href="#w" x="303.734"/>
<use href="#g" x="305.532"/>
<use href="#g" x="307.331"/>
<use href="#g" x="309.130"/>
<use href="#g" x="310.929"/>
<use href="#g" x="312.728"/>
<use href="#g" x="314.526"/>
<use href="#g" x="316.325"/>
<use href="#g" x="318.124"/>
<use href="#g" x="319.923"/>
<use href="#g" x="321.722"/>
<use href="#g" x="323.520"/>
<use href="#g" x="325.319"/>
<use href="#g" x="327.118"/>
<use href="#g" x="328.917"/>
<use href="#g" x="330.716"/>
<use href="#g" x="332.514"/>
<use href="#g" x="334.313"/>
<use href="#g" x="336.112"/>
<use href="#g" x="337.911"/>
<use href="#g" x="339.710"/>
<use href="#g" x="341.508"/>
<use href="#w" x="343.307"/>
<use href="#g" x="345.106"/>
<use href="#g" x="346.905"/>
<use href="#g" x="348.704"/>
<use href="#g" x="350.502"/>
<use href="#g" x="352.301"/>
<use href="#g" x="354.100"/>
<use href="#g" x="355.899"/>
<use href="#g" x="357.698"/>
<use href="#g" x="359.496"/>
<use href="#g" x="361.295"/>
<use href="#g" x="363.094"/>
<use href="#g" x="364.893"/>
<use href="#g" x="366.692"/>
<use href="#g" x="368.490"/>
<use href="#g" x="370.289"/>
<use href="#g" x="372.088"/>
<use href="#g" x="373.887"/>
<use href="#g" x="375.686"/>
<use href="#g" x="377.484"/>
<use href="#g" x="379.283"/>
<use href="#g" x="381.082"/>
<use href="#g" x="382.881"/>
<use href="#g" x="384.680"/>
<use href="#g" x="386.478"/>
<use href="#g" x="388.277"/>
<use href="#g" x="390.076"/>
<use href="#g" x="391.875"/>
<use href="#g" x="393.674"/>
<use href="#g" x="395.472"/>
<use href="#g" x="397.271"/>
<use href="#g" x="399.070"/>
<use href="#g" x="400.869"/>
<use href="#g" x="402.668"/>
<use href="#g" x="404.466"/>
<use href="#g" x="406.265"/>
<use href="#g" x="408.064"/>
<use href="#g" x="409.863"/>
<use href="#g" x="411.662"/>
<use href="#g" x="413.460"/>
<use href="#g" x="415.259"/>
<use href="#g" x="417.058"/>
<use href="#g" x="418.857"/>
<use href="#g" x="420.656"/>
<use href="#g" x="422.454"/>
<use href="#g" x="424.253"/>
<use href="#g" x="426.052"/>
<use href="#g" x="427.851"/>
<use href="#g" x="429.650"/>
<use href="#g" x="431.448"/>
<use href="#g" x="433.247"/>
<use href="#g" x="435.046"/>
<use href="#g" x="436.845"/>
<use href="#g" x="438.644"/>
<use href="#g" x="440.442"/>
<use href="#g" x="442.241"/>
<use href="#g" x="444.040"/>
<use href="#g" x="445.839"/>
<use href="#g" x="447.638"/>
<use href="#g" x="449.436"/>
<use href="#g" x="451.235"/>
<use href="#g" x="453.034"/>
<use href="#g" x="454.833"/>
<use href="#g" x="456.632"/>
<use href="#g" x="458.430"/>
<use href="#g" x="460.229"/>
<use href="#g" x="462.028"/>
<use href="#g" x="463.827"/>
<use href="#g" x="465.626"/>
<use href="#g" x="467.424"/>
<use href="#g" x="469.223"/>
<use href="#g" x="471.022"/>
<use href="#g" x="472.821"/>
<use href="#g" x="474.620"/>
<use href="#g" x="476.418"/>
<use href="#g" x="478.217"/>
<use href="#g" x="480.016"/>
<use href="#g" x="481.815"/>
<use href="#g" x="483.614"/>
<use href="#g" x="485.412"/>
<use href="#g" x="487.211"/>
<use href="#g" x="489.010"/>
<use href="#g" x="490.809"/>
<use href="#g" x="492.608"/>
<use href="#g" x="494.406"/>
<use href="#g" x="496.205"/>
<use href="#g" x="498.004"/>
<use href="#g" x="499.803"/>
<use href="#g" x="501.602"/>
<use href="#g" x="503.400"/>
<use href="#g" x="505.199"/>
<use href="#g" x="506.998"/>
<use href="#g" x="508.797"/>
<use href="#g" x="510.596"/>
<use href="#g" x="512.394"/>
<use href="#g" x="514.193"/>
<use href="#g" x="515.992"/>
<use href="#g" x="517.791"/>
<use href="#g" x="519.590"/>
<use href="#g" x="521.388"/>
<use href="#g" x="523.187"/>
<use href="#g" x="524.986"/>
<use href="#g" x="526.785"/>
<use href="#g" x="528.584"/>
<use href="#g" x="530.382"/>
<use href="#g" x="532.181"/>
<use href="#g" x="533.980"/>
<use href="#g" x="535.779"/>
<use href="#g" x="537.578"/>
<use href="#g" x="539.376"/>
<use href="#g" x="541.175"/>
<use href="#g" x="542.974"/>
<use href="#g" x="544.773"/>
<use href="#g" x="546.572"/>
<use href="#g" x="548.370"/>
<use href="#g" x="550.169"/>
<use href="#g" x="551.968"/>
<use href="#g" x="553.767"/>
<use href="#g" x="555.566"/>
<use href="#g" x="557.364"/>
<use href="#g" x="559.163"/>
<use href="#g" x="560.962"/>
<use href="#g" x="562.761"/>
<use href="#g" x="564.560"/>
<use href="#g" x="566.358"/>
<use href="#g" x="568.157"/>
<use href="#g" x="569.956"/>
<use href="#g" x="571.755"/>
<use href="#g" x="573.554"/>
<use href="#g" x="575.352"/>
<use href="#g" x="577.151"/>
<use href="#g" x="578.950"/>
<use href="#g" x="580.749"/>
<use href="#g" x="582.548"/>
<use href="#g" x="584.346"/>
<use href="#g" x="586.145"/>
<use href="#g" x="587.944"/>
<use href="#g" x="589.743"/>
<use href="#g" x="591.542"/>
<use href="#g" x="593.340"/>
<use href="#g" x="595.139"/>
<use href="#g" x="596.938"/>
<use href="#g" x="598.737"/>
<use href="#g" x="600.536"/>
<use href="#g" x="602.334"/>
<use href="#g" x="604.133"/>
<use href="#w" x="605.932"/>
<use href="#g" x="607.731"/>
<use href="#g" x="609.530"/>
<use href="#g" x="611.328"/>
<use href="#g" x="613.127"/>
<use href="#g" x="614.926"/>
<use href="#g" x="616.725"/>
<use href="#g" x="618.524"/>
<use href="#g" x="620.322"/>
<use href="#g" x="622.121"/>
<use href="#g" x="623.920"/>
<use href="#g" x="625.719"/>
<use href="#g" x="627.518"/>
<use href="#g" x="629.316"/>
<use href="#g" x="631.115"/>
<use href="#g" x="632.914"/>
<use href="#g" x="634.713"/>
<use href="#g" x="636.512"/>
<use href="#g" x="638.310"/>
<use href="#g" x="640.109"/>
<use href="#g" x="641.908"/>
<use href="#g" x="643.707"/>
<use href="#g" x="645.506"/>
<use href="#g" x="647.304"/>
<use href="#g" x="649.103"/>
<use href="#g" x="650.902"/>
<use href="#g" x="652.701"/>
<use href="#g" x="654.500"/>
<use href="#g" x="656.298"/>
<use href="#g" x="658.097"/>
<use href="#g" x="659.896"/>
<use href="#g" x="661.695"/>
<use href="#g" x="663.494"/>
<use href="#g" x="665.292"/>
<use href="#g" x="667.091"/>
<use href="#g" x="668.890"/>
<use href="#g" x="670.689"/>
<use href="#g" x="672.488"/>
<use href="#g" x="674.286"/>
<use href="#g" x="676.085"/>
<use href="#g" x="677.884"/>
<use href="#g" x="679.683"/>
<use href="#g" x="681.482"/>
<use href="#g" x="683.280"/>
<use href="#g" x="685.079"/>
<use href="#g" x="686.878"/>
<use href="#g" x="688.677"/>
<use href="#g" x="690.476"/>
<use href="#g" x="692.274"/>
<use href="#g" x="694.073"/>
<use href="#g" x="695.872"/>
<use href="#g" x="697.671"/>
<use href="#g" x="699.470"/>
<use href="#g" x="701.268"/>
<use href="#g" x="703.067"/>
<use href="#g" x="704.866"/>
<use href="#g" x="706.665"/>
<use href="#g" x="708.464"/>
<use href="#g" x="710.262"/>
<use href="#g" x="712.061"/>
<use href="#g" x="713.860"/>
<use href="#g" x="715.659"/>
<use href="#g" x="717.458"/>
<use href="#g" x="719.256"/>
<use href="#g" x="721.055"/>
<use href="#g" x="722.854"/>
<use href="#g" x="724.653"/>
<use href="#g" x="726.452"/>
<use href="#g" x="728.250"/>
<use href="#g" x="730.049"/>
<use href="#g" x="731.848"/>
<use href="#g" x="733.647"/>
<use href="#g" x="735.446"/>
<use href="#g" x="737.244"/>
<use href="#g" x="739.043"/>
<use href="#g" x="740.842"/>
<use href="#g" x="742.641"/>
<use href="#g" x="744.440"/>
<use href="#g" x="746.238"/>
<use href="#g" x="748.037"/>
<use href="#g" x="749.836"/>
<use href="#g" x="751.635"/>
<use href="#g" x="753.434"/>
<use href="#g" x="755.232"/>
<use href="#g" x="757.031"/>
<use href="#g" x="758.830"/>
<use href="#w" x="760.629"/>
<use href="#g" x="762.428"/>
<use href="#g" x="764.226"/>
<use href="#g" x="766.025"/>
<use href="#g" x="767.824"/>
<use href="#g" x="769.623"/>
<use href="#g" x="771.422"/>
<use href="#g" x="773.220"/>
<use href="#g" x="775.019"/>
<use href="#g" x="776.818"/>
<use href="#g" x="778.617"/>
<use href="#g" x="780.416"/>
<use href="#g" x="782.214"/>
<use href="#g" x="784.013"/>
<use href="#g" x="785.812"/>
<use href="#g" x="787.611"/>
<use href="#g" x="789.410"/>
<use href="#g" x="791.208"/>
<use href="#g" x="793.007"/>
<use href="#g" x="794.806"/>
<use href="#g" x="796.605"/>
<use href="#g" x="798.404"/>
<use href="#g" x="800.202"/>
<use href="#g" x="802.001"/>
<use href="#g" x="803.800"/>
<use href="#g" x="805.599"/>
<use href="#g" x="807.398"/>
<use href="#g" x="809.196"/>
<use href="#g" x="810.995"/>
<use href="#g" x="812.794"/>
<use href="#g" x="814.593"/>
<use href="#g" x="816.392"/>
<use href="#g" x="818.190"/>
<use href="#g" x="819.989"/>
<use href="#g" x="821.788"/>
<use href="#g" x="823.587"/>
<use href="#g" x="825.386"/>
<use href="#g" x="827.184"/>
<use href="#g" x="828.983"/>
<use href="#g" x="830.782"/>
<use href="#g" x="832.581"/>
<use href="#g" x="834.380"/>
<use href="#g" x="836.178"/>
<use href="#g" x="837.977"/>
<use href="#g" x="839.776"/>
<use href="#g" x="841.575"/>
<use href="#g" x="843.374"/>
<use href="#g" x="845.172"/>
<use href="#g" x="846.971"/>
<use href="#g" x="848.770"/>
<use href="#g" x="850.569"/>
<use href="#g" x="852.368"/>
<use href="#g" x="854.166"/>
<use href="#g" x="855.965"/>
<use href="#g" x="857.764"/>
<use href="#g" x="859.563"/>
<use href="#g" x="861.362"/>
<use href="#g" x="863.160"/>
<use href="#g" x="864.959"/>
<use href="#g" x="866.758"/>
<use href="#g" x="868.557"/>
<use href="#g" x="870.356"/>
<use href="#g" x="872.154"/>
<use href="#g" x="873.953"/>
<use href="#g" x="875.752"/>
<use href="#g" x="877.551"/>
<use href="#g" x="879.350"/>
<use href="#g" x="881.148"/>
<use href="#g" x="882.947"/>
<use href="#g" x="884.746"/>
<use href="#g" x="886.545"/>
<use href="#g" x="888.344"/>
<use href="#g" x="890.142"/>
<use href="#g" x="891.941"/>
<use href="#g" x="893.740"/>
<use href="#g" x="895.539"/>
<use href="#g" x="897.338"/>
<use href="#g" x="899.136"/>
<use href="#g" x="900.935"/>
<use href="#g" x="902.734"/>
<use href="#g" x="904.533"/>
<use href="#g" x="906.332"/>
<use href="#g" x="908.130"/>
<use href="#g" x="909.929"/>
<use href="#g" x="911.728"/>
<use href="#g" x="913.527"/>
<use href="#g" x="915.326"/>
<use href="#g" x="917.124"/>
<use href="#g" x="918.923"/>
<use href="#g" x="920.722"/>
<use href="#g" x="922.521"/>
<use href="#g" x="924.320"/>
<use href="#g" x="926.118"/>
<use href="#g" x="927.917"/>
<use href="#g" x="929.716"/>
<use href="#g" x="931.515"/>
<use href="#g" x="933.314"/>
<use href="#g" x="935.112"/>
<use href="#g" x="936.911"/>
<use href="#g" x="938.710"/>
<use href="#g" x="940.509"/>
<use href="#g" x="942.308"/>
<use href="#g" x="944.106"/>
<use href="#g" x="945.905"/>
<use href="#g" x="947.704"/>
<use href="#g" x="949.503"/>
<use href="#g" x="951.302"/>
<use href="#g" x="953.100"/>
<use href="#g" x="954.899"/>
<use href="#g" x="956.698"/>
<use href="#g" x="958.497"/>
<use href="#g" x="960.296"/>
<use href="#g" x="962.094"/>
<use href="#g" x="963.893"/>
<use href="#g" x="965.692"/>
<use href="#g" x="967.491"/>
<use href="#g" x="969.290"/>
<use href="#g" x="971.088"/>
<use href="#g" x="972.887"/>
<use href="#g" x="974.686"/>
<use href="#g" x="976.485"/>
<use href="#g" x="978.284"/>
<use href="#g" x="980.082"/>
<use href="#g" x="981.881"/>
<use href="#g" x="983.680"/>
<use href="#g" x="985.479"/>
<use href="#g" x="987.278"/>
<use href="#g" x="989.076"/>
<use href="#g" x="990.875"/>
<use href="#g" x="992.674"/>
<use href="#g" x="994.473"/>
<use href="#g" x="996.272"/>
<use href="#g" x="998.070"/>
<use href="#g" x="999.869"/>
<use href="#g" x="1001.668"/>
<use href="#g" x="1003.467"/>
<use href="#g" x="1005.266"/>
<use href="#g" x="1007.064"/>
<use href="#g" x="1008.863"/>
<use href="#g" x="1010.662"/>
<use href="#g" x="1012.461"/>
<use href="#g" x="1014.260"/>
<use href="#g" x="1016.058"/>
<use href="#g" x="1017.857"/>
<use href="#g" x="1019.656"/>
<use href="#g" x="1021.455"/>
<use href="#g" x="1023.254"/>
<use href="#g" x="1025.052"/>
<use href="#g" x="1026.851"/>
<use href="#g" x="1028.650"/>
<use href="#g" x="1030.449"/>
<use href="#g" x="1032.248"/>
<use href="#g" x="1034.046"/>
<use href="#g" x="1035.845"/>
<use href="#g" x="1037.644"/>
<use href="#g" x="1039.443"/>
<use href="#g" x="1041.242"/>
<use href="#g" x="1043.040"/>
<use href="#g" x="1044.839"/>
<use href="#g" x="1046.638"/>
<use href="#g" x="1048.437"/>
<use href="#g" x="1050.236"/>
<use href="#g" x="1052.034"/>
<use href="#g" x="1053.833"/>
<use href="#g" x="1055.632"/>
<use href="#g" x="1057.431"/>
<use href="#g" x="1059.230"/>
<use href="#g" x="1061.028"/>
<use href="#g" x="1062.827"/>
<use href="#g" x="1064.626"/>
<use href="#g" x="1066.425"/>
<use href="#g" x="1068.224"/>
<use href="#g" x="1070.022"/>
<use href="#g" x="1071.821"/>
<use href="#g" x="1073.620"/>
<use href="#g" x="1075.419"/>
<use href="#g" x="1077.218"/>
<use href="#g" x="1079.016"/>
<use href="#g" x="1080.815"/>
<use href="#g" x="1082.614"/>
<use href="#g" x="1084.413"/>
<use href="#g" x="1086.212"/>
<use href="#g" x="1088.010"/>
<use href="#g" x="1089.809"/>
<use href="#g" x="1091.608"/>
<use href="#g" x="1093.407"/>
<use href="#g" x="1095.206"/>
<use href="#g" x="1097.004"/>
<use href="#g" x="1098.803"/>
<use href="#g" x="1100.602"/>
<use href="#g" x="1102.401"/>
<use href="#g" x="1104.200"/>
<use href="#g" x="1105.998"/>
<use href="#g" x="1107.797"/>
<use href="#g" x="1109.596"/>
<use href="#g" x="1111.395"/>
<use href="#g" x="1113.194"/>
<use href="#g" x="1114.992"/>
<use href="#g" x="1116.791"/>
<use href="#g" x="1118.590"/>
<use href="#g" x="1120.389"/>
<use href="#g" x="1122.188"/>
<use href="#g" x="1123.986"/>
<use href="#g" x="1125.785"/>
<use href="#g" x="1127.584"/>
<use href="#g" x="1129.383"/>
<use href="#g" x="1131.182"/>
<use href="#g" x="1132.980"/>
<use href="#g" x="1134.779"/>
<use href="#g" x="1136.578"/>
<use href="#g" x="1138.377"/>
<use href="#g" x="1140.176"/>
<use href="#g" x="1141.974"/>
<use href="#g" x="1143.773"/>
<use href="#g" x="1145.572"/>
<use href="#g" x="1147.371"/>
<use href="#g" x="1149.170"/>
<use href="#g" x="1150.968"/>
<use href="#g" x="1152.767"/>
<use href="#g" x="1154.566"/>
<use href="#g" x="1156.365"/>
<use href="#g" x="1158.164"/>
<use href="#g" x="1159.962"/>
<use href="#g" x="1161.761"/>
<use href="#g" x="1163.560"/>
<use href="#g" x="1165.359"/>
<use href="#g" x="1167.158"/>
<use href="#g" x="1168.956"/>
<use href="#g" x="1170.755"/>
<use href="#g" x="1172.554"/>
<use href="#g" x="1174.353"/>
<use href="#g" x="1176.152"/>
<use href="#g" x="1177.950"/>
<use href="#g" x="1179.749"/>
</g>
<g transform="translate(0 400.4286)">
<use href="#g" x="129.250"/>
<use href="#w" x="131.049"/>
<use href="#g" x="132.848"/>
<use href="#g" x="134.646"/>
<use href="#g" x="136.445"/>
<use href="#g" x="138.244"/>
<use href="#g" x="140.043"/>
<use href="#g" x="141.842"/>
<use href="#g" x="143.640"/>
<use href="#g" x="145.439"/>
<use href="#g" x="147.238"/>
<use href="#g" x="149.037"/>
<use href="#g" x="150.836"/>
<use href="#g" x="152.634"/>
<use href="#g" x="154.433"/>
<use href="#g" x="156.232"/>
<use href="#g" x="158.031"/>
<use href="#g" x="159.830"/>
<use href="#g" x="161.628"/>
<use href="#g" x="163.427"/>
<use href="#g" x="165.226"/>
<use href="#g" x="167.025"/>
<use href="#g" x="168.824"/>
<use href="#g" x="170.622"/>
<use href="#g" x="172.421"/>
<use href="#g" x="174.220"/>
<use href="#g" x="176.019"/>
<use href="#g" x="177.818"/>
<use href="#g" x="179.616"/>
<use href="#g" x="181.415"/>
<use href="#g" x="183.214"/>
<use href="#g" x="185.013"/>
<use href="#g" x="186.812"/>
<use href="#g" x="188.610"/>
<use href="#g" x="190.409"/>
<use href="#w" x="192.208"/>
<use href="#w" x="194.007"/>
<use href="#w" x="195.806"/>
<use href="#w" x="197.604"/>
<use href="#w" x="199.403"/>
<use href="#w" x="201.202"/>
<use href="#w" x="203.001"/>
<use href="#w" x="204.800"/>
<use href="#w" x="206.598"/>
<use href="#w" x="208.397"/>
<use href="#w" x="210.196"/>
<use href="#w" x="211.995"/>
<use href="#w" x="213.794"/>
<use href="#w" x="215.592"/>
<use href="#w" x="217.391"/>
<use href="#w" x="219.190"/>
<use href="#w" x="220.989"/>
<use href="#w" x="222.788"/>
<use href="#w" x="224.586"/>
<use href="#w" x="226.385"/>
<use href="#w" x="228.184"/>
<use href="#w" x="229.983"/>
<use href="#w" x="231.782"/>
<use href="#w" x="233.580"/>
<use href="#w" x="235.379"/>
<use href="#w" x="237.178"/>
<use href="#w" x="238.977"/>
<use href="#w" x="240.776"/>
<use href="#w" x="242.574"/>
<use href="#w" x="244.373"/>
<use href="#w" x="246.172"/>
<use href="#w" x="247.971"/>
<use href="#w" x="249.770"/>
<use href="#w" x="251.568"/>
<use href="#w" x="253.367"/>
<use href="#w" x="255.166"/>
<use href="#w" x="256.965"/>
<use href="#w" x="258.764"/>
<use href="#w" x="260.562"/>
<use href="#w" x="262.361"/>
<use href="#w" x="264.160"/>
<use href="#w" x="265.959"/>
<use href="#w" x="267.758"/>
<use href="#w" x="269.556"/>
<use href="#w" x="271.355"/>
<use href="#w" x="273.154"/>
<use href="#w" x="274.953"/>
<use href="#w" x="276.752"/>
<use href="#w" x="278.550"/>
<use href="#w" x="280.349"/>
<use href="#w" x="282.148"/>
<use href="#w" x="283.947"/>
<use href="#w" x="285.746"/>
<use href="#w" x="287.544"/>
<use href="#w" x="289.343"/>
<use href="#w" x="291.142"/>
<use href="#w" x="292.941"/>
<use href="#w" x="294.740"/>
<use href="#w" x="296.538"/>
<use href="#w" x="298.337"/>
<use href="#w" x="300.136"/>
<use href="#w" x="301.935"/>
<use href="#w" x="303.734"/>
<use href="#g" x="305.532"/>
<use href="#g" x="307.331"/>
<use href="#g" x="309.130"/>
<use href="#g" x="310.929"/>
<use href="#g" x="312.728"/>
<use href="#g" x="314.526"/>
<use href="#g" x="316.325"/>
<use href="#g" x="318.124"/>
<use href="#g" x="319.923"/>
<use href="#g" x="321.722"/>
<use href="#g" x="323.520"/>
<use href="#g" x="325.319"/>
<use href="#g" x="327.118"/>
<use href="#g" x="328.917"/>
<use href="#g" x="330.716"/>
<use href="#g" x="332.514"/>
<use href="#g" x="334.313"/>
<use href="#g" x="336.112"/>
<use href="#g" x="337.911"/>
<use href="#g" x="339.710"/>
<use href="#g" x="341.508"/>
<use href="#w" x="343.307"/>
<use href="#g" x="345.106"/>
<use href="#g" x="346.905"/>
<use href="#g" x="348.704"/>
<use href="#g" x="350.502"/>
<use href="#g" x="352.301"/>
<use href="#g" x="354.100"/>
<use href="#g" x="355.899"/>
<use href="#g" x="357.698"/>
<use href="#g" x="359.496"/>
<use href="#g" x="361.295"/>
<use href="#g" x="363.094"/>
<use href="#g" x="364.893"/>
<use href="#g" x="366.692"/>
<use href="#g" x="368.490"/>
<use href="#g" x="370.289"/>
<use href="#g" x="372.088"/>
<use href="#g" x="373.887"/>
<use href="#g" x="375.686"/>
<use href="#g" x="377.484"/>
<use href="#g" x="379.283"/>
<use href="#g" x="381.082"/>
<use href="#g" x="382.881"/>
<use href="#g" x="384.680"/>
<use href="#g" x="386.478"/>
<use href="#g" x="388.277"/>
<use href="#g" x="390.076"/>
<use href="#g" x="391.875"/>
<use href="#g" x="393.674"/>
<use href="#g" x="395.472"/>
<use href="#g" x="397.271"/>
<use href="#g" x="399.070"/>
<use href="#g" x="400.869"/>
<use href="#g" x="402.668"/>
<use href="#g" x="404.466"/>
<use href="#g" x="406.265"/>
<use href="#g" x="408.064"/>
<use href="#g" x="409.863"/>
<use href="#g" x="411.662"/>
<use href="#w" x="413.460"/>
<use href="#g" x="415.259"/>
<use href="#g" x="417.058"/>
<use href="#g" x="418.857"/>
<use href="#g" x="420.656"/>
<use href="#g" x="422.454"/>
<use href="#g" x="424.253"/>
<use href="#g" x="426.052"/>
<use href="#g" x="427.851"/>
<use href="#g" x="429.650"/>
<use href="#g" x="431.448"/>
<use href="#g" x="433.247"/>
<use href="#g" x="435.046"/>
<use href="#g" x="436.845"/>
<use href="#g" x="438.644"/>
<use href="#g" x="440.442"/>
<use href="#g" x="442.241"/>
<use href="#g" x="444.040"/>
<use href="#g" x="445.839"/>
<use href="#g" x="447.638"/>
<use href="#g" x="449.436"/>
<use href="#g" x="451.235"/>
<use href="#g" x="453.034"/>
<use href="#g" x="454.833"/>
<use href="#g" x="456.632"/>
<use href="#g" x="458.430"/>
<use href="#g" x="460.229"/>
<use href="#g" x="462.028"/>
<use href="#g" x="463.827"/>
<use href="#g" x="465.626"/>
<use href="#g" x="467.424"/>
<use href="#g" x="469.223"/>
<use href="#g" x="471.022"/>
<use href="#g" x="472.821"/>
<use href="#g" x="474.620"/>
<use href="#g" x="476.418"/>
<use href="#g" x="478.217"/>
<use href="#g" x="480.016"/>
<use href="#g" x="481.815"/>
<use href="#g" x="483.614"/>
<use href="#g" x="485.412"/>
<use href="#g" x="487.211"/>
<use href="#g" x="489.010"/>
<use href="#g" x="490.809"/>
<use href="#g" x="492.608"/>
<use href="#g" x="494.406"/>
<use href="#g" x="496.205"/>
<use href="#g" x="498.004"/>
<use href="#g" x="499.803"/>
<use href="#g" x="501.602"/>
<use href="#g" x="503.400"/>
<use href="#g" x="505.199"/>
<use href="#g" x="506.998"/>
<use href="#g" x="508.797"/>
<use href="#g" x="510.596"/>
<use href="#g" x="512.394"/>
<use href="#g" x="514.193"/>
<use href="#g" x="515.992"/>
<use href="#g" x="517.791"/>
<use href="#g" x="519.590"/>
<use href="#g" x="521.388"/>
<use href="#g" x="523.187"/>
<use href="#g" x="524.986"/>
<use href="#g" x="526.785"/>
<use href="#g" x="528.584"/>
<use href="#g" x="530.382"/>
<use href="#g" x="532.181"/>
<use href="#g" x="533.980"/>
<use href="#g" x="535.779"/>
<use href="#g" x="537.578"/>
<use href="#g" x="539.376"/>
<use href="#w" x="541.175"/>
<use href="#g" x="542.974"/>
<use href="#g" x="544.773"/>
<use href="#g" x="546.572"/>
<use href="#g" x="548.370"/>
<use href="#g" x="550.169"/>
<use href="#g" x="551.968"/>
<use href="#g" x="553.767"/>
<use href="#g" x="555.566"/>
<use href="#g" x="557.364"/>
<use href="#g" x="559.163"/>
<use href="#g" x="560.962"/>
<use href="#g" x="562.761"/>
<use href="#g" x="564.560"/>
<use href="#g" x="566.358"/>
<use href="#g" x="568.157"/>
<use href="#g" x="569.956"/>
<use href="#g" x="571.755"/>
<use href="#g" x="573.554"/>
<use href="#g" x="575.352"/>
<use href="#g" x="577.151"/>
<use href="#g" x="578.950"/>
<use href="#g" x="580.749"/>
<use href="#g" x="582.548"/>
<use href="#g" x="584.346"/>
<use href="#g" x="586.145"/>
<use href="#g" x="587.944"/>
<use href="#g" x="589.743"/>
<use href="#g" x="591.542"/>
<use href="#g" x="593.340"/>
<use href="#g" x="595.139"/>
<use href="#g" x="596.938"/>
<use href="#g" x="598.737"/>
<use href="#g" x="600.536"/>
<use href="#g" x="602.334"/>
<use href="#g" x="604.133"/>
<use href="#g" x="605.932"/>
<use href="#g" x="607.731"/>
<use href="#g" x="609.530"/>
<use href="#g" x="611.328"/>
<use href="#g" x="613.127"/>
<use href="#g" x="614.926"/>
<use href="#g" x="616.725"/>
<use href="#g" x="618.524"/>
<use href="#g" x="620.322"/>
<use href="#g" x="622.121"/>
<use href="#g" x="623.920"/>
<use href="#g" x="625.719"/>
<use href="#g" x="627.518"/>
<use href="#g" x="629.316"/>
<use href="#g" x="631.115"/>
<use href="#g" x="632.914"/>
<use href="#g" x="634.713"/>
<use href="#g" x="636.512"/>
<use href="#g" x="638.310"/>
<use href="#g" x="640.109"/>
<use href="#g" x="641.908"/>
<use href="#g" x="643.707"/>
<use href="#g" x="645.506"/>
<use href="#g" x="647.304"/>
<use href="#g" x="649.103"/>
<use href="#g" x="650.902"/>
<use href="#g" x="652.701"/>
<use href="#g" x="654.500"/>
<use href="#g" x="656.298"/>
<use href="#g" x="658.097"/>
<use href="#g" x="659.896"/>
<use href="#g" x="661.695"/>
<use href="#g" x="663.494"/>
<use href="#g" x="665.292"/>
<use href="#g" x="667.091"/>
<use href="#g" x="668.890"/>
<use href="#g" x="670.689"/>
<use href="#g" x="672.488"/>
<use href="#g" x="674.286"/>
<use href="#g" x="676.085"/>
<use href="#g" x="677.884"/>
<use href="#g" x="679.683"/>
<use href="#g" x="681.482"/>
<use href="#g" x="683.280"/>
<use href="#g" x="685.079"/>
<use href="#g" x="686.878"/>
<use href="#g" x="688.677"/>
<use href="#g" x="690.476"/>
<use href="#g" x="692.274"/>
<use href="#g" x="694.073"/>
<use href="#g" x="695.872"/>
<use href="#g" x="697.671"/>
<use href="#g" x="699.470"/>
<use href="#g" x="701.268"/>
<use href="#g" x="703.067"/>
<use href="#g" x="704.866"/>
<use href="#g" x="706.665"/>
<use href="#g" x="708.464"/>
<use href="#g" x="710.262"/>
<use href="#g" x="712.061"/>
<use href="#g" x="713.860"/>
<use href="#g" x="715.659"/>
<use href="#g" x="717.458"/>
<use href="#w" x="719.256"/>
<use href="#g" x="721.055"/>
<use href="#g" x="722.854"/>
<use href="#g" x="724.653"/>
<use href="#g" x="726.452"/>
<use href="#g" x="728.250"/>
<use href="#g" x="730.049"/>
<use href="#g" x="731.848"/>
<use href="#g" x="733.647"/>
<use href="#g" x="735.446"/>
<use href="#g" x="737.244"/>
<use href="#g" x="739.043"/>
<use href="#g" x="740.842"/>
<use href="#g" x="742.641"/>
<use href="#g" x="744.440"/>
<use href="#g" x="746.238"/>
<use href="#g" x="748.037"/>
<use href="#g" x="749.836"/>
<use href="#g" x="751.635"/>
<use href="#g" x="753.434"/>
<use href="#g" x="755.232"/>
<use href="#g" x="757.031"/>
<use href="#g" x="758.830"/>
<use href="#w" x="760.629"/>
<use href="#g" x="762.428"/>
<use href="#g" x="764.226"/>
<use href="#g" x="766.025"/>
<use href="#g" x="767.824"/>
<use href="#g" x="769.623"/>
<use href="#g" x="771.422"/>
<use href="#g" x="773.220"/>
<use href="#g" x="775.019"/>
<use href="#g" x="776.818"/>
<use href="#g" x="778.617"/>
<use href="#g" x="780.416"/>
<use href="#g" x="782.214"/>
<use href="#g" x="784.013"/>
<use href="#g" x="785.812"/>
<use href="#g" x="787.611"/>
<use href="#g" x="789.410"/>
<use href="#g" x="791.208"/>
<use href="#g" x="793.007"/>
<use href="#g" x="794.806"/>
<use href="#g" x="796.605"/>
<use href="#g" x="798.404"/>
<use href="#g" x="800.202"/>
<use href="#g" x="802.001"/>
<use href="#g" x="803.800"/>
<use href="#g" x="805.599"/>
<use href="#g" x="807.398"/>
<use href="#g" x="809.196"/>
<use href="#g" x="810.995"/>
<use href="#g" x="812.794"/>
<use href="#g" x="814.593"/>
<use href="#g" x="816.392"/>
<use href="#g" x="818.190"/>
<use href="#g" x="819.989"/>
<use href="#g" x="821.788"/>
<use href="#g" x="823.587"/>
<use href="#g" x="825.386"/>
<use href="#g" x="827.184"/>
<use href="#g" x="828.983"/>
<use href="#g" x="830.782"/>
<use href="#g" x="832.581"/>
<use href="#g" x="834.380"/>
<use href="#g" x="836.178"/>
<use href="#g" x="837.977"/>
<use href="#g" x="839.776"/>
<use href="#g" x="841.575"/>
<use href="#g" x="843.374"/>
<use href="#g" x="845.172"/>
<use href="#g" x="846.971"/>
<use href="#g" x="848.770"/>
<use href="#g" x="850.569"/>
<use href="#g" x="852.368"/>
<use href="#g" x="854.166"/>
<use href="#g" x="855.965"/>
<use href="#g" x="857.764"/>
<use href="#g" x="859.563"/>
<use href="#g" x="861.362"/>
<use href="#g" x="863.160"/>
<use href="#g" x="864.959"/>
<use href="#g" x="866.758"/>
<use href="#g" x="868.557"/>
<use href="#g" x="870.356"/>
<use href="#g" x="872.154"/>
<use href="#g" x="873.953"/>
<use href="#g" x="875.752"/>
<use href="#g" x="877.551"/>
<use href="#g" x="879.350"/>
<use href="#g" x="881.148"/>
<use href="#g" x="882.947"/>
<use href="#g" x="884.746"/>
<use href="#g" x="886.545"/>
<use href="#g" x="888.344"/>
<use href="#g" x="890.142"/>
<use href="#g" x="891.941"/>
<use href="#g" x="893.740"/>
<use href="#g" x="895.539"/>
<use href="#g" x="897.338"/>
<use href="#g" x="899.136"/>
<use href="#g" x="900.935"/>
<use href="#g" x="902.734"/>
<use href="#g" x="904.533"/>
<use href="#g" x="906.332"/>
<use href="#g" x="908.130"/>
<use href="#g" x="909.929"/>
<use href="#g" x="911.728"/>
<use href="#g" x="913.527"/>
<use href="#g" x="915.326"/>
<use href="#g" x="917.124"/>
<use href="#g" x="918.923"/>
<use href="#g" x="920.722"/>
<use href="#g" x="922.521"/>
<use href="#g" x="924.320"/>
<use href="#g" x="926.118"/>
<use href="#g" x="927.917"/>
<use href="#g" x="929.716"/>
<use href="#g" x="931.515"/>
<use href="#g" x="933.314"/>
<use href="#g" x="935.112"/>
<use href="#g" x="936.911"/>
<use href="#g" x="938.710"/>
<use href="#g" x="940.509"/>
<use href="#g" x="942.308"/>
<use href="#g" x="944.106"/>
<use href="#g" x="945.905"/>
<use href="#g" x="947.704"/>
<use href="#g" x="949.503"/>
<use href="#g" x="951.302"/>
<use href="#g" x="953.100"/>
<use href="#g" x="954.899"/>
<use href="#g" x="956.698"/>
<use href="#g" x="958.497"/>
<use href="#g" x="960.296"/>
<use href="#g" x="962.094"/>
<use href="#g" x="963.893"/>
<use href="#g" x="965.692"/>
<use href="#g" x="967.491"/>
<use href="#g" x="969.290"/>
<use href="#g" x="971.088"/>
<use href="#g" x="972.887"/>
<use href="#g" x="974.686"/>
<use href="#g" x="976.485"/>
<use href="#g" x="978.284"/>
<use href="#g" x="980.082"/>
<use href="#g" x="981.881"/>
<use href="#g" x="983.680"/>
<use href="#g" x="985.479"/>
<use href="#g" x="987.278"/>
<use href="#g" x="989.076"/>
<use href="#g" x="990.875"/>
<use href="#g" x="992.674"/>
<use href="#g" x="994.473"/>
<use href="#g" x="996.272"/>
<use href="#g" x="998.070"/>
<use href="#g" x="999.869"/>
<use href="#g" x="1001.668"/>
<use href="#g" x="1003.467"/>
<use href="#g" x="1005.266"/>
<use href="#g" x="1007.064"/>
<use href="#g" x="1008.863"/>
<use href="#g" x="1010.662"/>
<use href="#g" x="1012.461"/>
<use href="#g" x="1014.260"/>
<use href="#g" x="1016.058"/>
<use href="#g" x="1017.857"/>
<use href="#g" x="1019.656"/>
<use href="#g" x="1021.455"/>
<use href="#g" x="1023.254"/>
<use href="#g" x="1025.052"/>
<use href="#g" x="1026.851"/>
<use href="#g" x="1028.650"/>
<use href="#g" x="1030.449"/>
<use href="#g" x="1032.248"/>
<use href="#g" x="1034.046"/>
<use href="#g" x="1035.845"/>
<use href="#g" x="1037.644"/>
<use href="#g" x="1039.443"/>
<use href="#g" x="1041.242"/>
<use href="#g" x="1043.040"/>
<use href="#g" x="1044.839"/>
<use href="#g" x="1046.638"/>
<use href="#g" x="1048.437"/>
<use href="#g" x="1050.236"/>
<use href="#g" x="1052.034"/>
<use href="#g" x="1053.833"/>
<use href="#g" x="1055.632"/>
<use href="#g" x="1057.431"/>
<use href="#g" x="1059.230"/>
<use href="#g" x="1061.028"/>
<use href="#g" x="1062.827"/>
<use href="#g" x="1064.626"/>
<use href="#g" x="1066.425"/>
<use href="#g" x="1068.224"/>
<use href="#g" x="1070.022"/>
<use href="#g" x="1071.821"/>
<use href="#g" x="1073.620"/>
<use href="#g" x="1075.419"/>
<use href="#g" x="1077.218"/>
<use href="#g" x="1079.016"/>
<use href="#g" x="1080.815"/>
<use href="#g" x="1082.614"/>
<use href="#g" x="1084.413"/>
<use href="#g" x="1086.212"/>
<use href="#g" x="1088.010"/>
<use href="#g" x="1089.809"/>
<use href="#g" x="1091.608"/>
<use href="#g" x="1093.407"/>
<use href="#g" x="1095.206"/>
<use href="#g" x="1097.004"/>
<use href="#g" x="1098.803"/>
<use href="#g" x="1100.602"/>
<use href="#g" x="1102.401"/>
<use href="#g" x="1104.200"/>
<use href="#g" x="1105.998"/>
<use href="#g" x="1107.797"/>
<use href="#g" x="1109.596"/>
<use href="#g" x="1111.395"/>
<use href="#g" x="1113.194"/>
<use href="#g" x="1114.992"/>
<use href="#g" x="1116.791"/>
<use href="#g" x="1118.590"/>
<use href="#g" x="1120.389"/>
<use href="#g" x="1122.188"/>
<use href="#g" x="1123.986"/>
<use href="#g" x="1125.785"/>
<use href="#g" x="1127.584"/>
<use href="#g" x="1129.383"/>
<use href="#g" x="1131.182"/>
<use href="#w" x="1132.980"/>
<use href="#g" x="1134.779"/>
<use href="#g" x="1136.578"/>
<use href="#g" x="1138.377"/>
<use href="#g" x="1140.176"/>
<use href="#g" x="1141.974"/>
<use href="#g" x="1143.773"/>
<use href="#g" x="1145.572"/>
<use href="#g" x="1147.371"/>
<use href="#g" x="1149.170"/>
<use href="#g" x="1150.968"/>
<use href="#g" x="1152.767"/>
<use href="#g" x="1154.566"/>
<use href="#g" x="1156.365"/>
<use href="#g" x="1158.164"/>
<use href="#g" x="1159.962"/>
<use href="#g" x="1161.761"/>
<use href="#g" x="1163.560"/>
<use href="#g" x="1165.359"/>
<use href="#g" x="1167.158"/>
<use href="#g" x="1168.956"/>
<use href="#g" x="1170.755"/>
<use href="#g" x="1172.554"/>
<use href="#g" x="1174.353"/>
<use href="#g" x="1176.152"/>
<use href="#g" x="1177.950"/>
<use href="#g" x="1179.749"/>
</g>
<g transform="translate(0 473.7143)">
<use href="#g" x="129.250"/>
<use href="#w" x="131.049"/>
<use href="#g" x="132.848"/>
<use href="#g" x="134.646"/>
<use href="#g" x="136.445"/>
<use href="#g" x="138.244"/>
<use href="#g" x="140.043"/>
<use href="#g" x="141.842"/>
<use href="#g" x="143.640"/>
<use href="#g" x="145.439"/>
<use href="#g" x="147.238"/>
<use href="#g" x="149.037"/>
<use href="#g" x="150.836"/>
<use href="#g" x="152.634"/>
<use href="#g" x="154.433"/>
<use href="#g" x="156.232"/>
<use href="#g" x="158.031"/>
<use href="#g" x="159.830"/>
<use href="#g" x="161.628"/>
<use href="#g" x="163.427"/>
<use href="#g" x="165.226"/>
<use href="#g" x="167.025"/>
<use href="#g" x="168.824"/>
<use href="#g" x="170.622"/>
<use href="#g" x="172.421"/>
<use href="#g" x="174.220"/>
<use href="#g" x="176.019"/>
<use href="#g" x="177.818"/>
<use href="#g" x="179.616"/>
<use href="#g" x="181.415"/>
<use href="#g" x="183.214"/>
<use href="#g" x="185.013"/>
<use href="#g" x="186.812"/>
<use href="#g" x="188.610"/>
<use href="#g" x="190.409"/>
<use href="#w" x="192.208"/>
<use href="#w" x="194.007"/>
<use href="#w" x="195.806"/>
<use href="#w" x="197.604"/>
<use href="#w" x="199.403"/>
<use href="#w" x="201.202"/>
<use href="#w" x="203.001"/>
<use href="#w" x="204.800"/>
<use href="#w" x="206.598"/>
<use href="#w" x="208.397"/>
<use href="#w" x="210.196"/>
<use href="#w" x="211.995"/>
<use href="#w" x="213.794"/>
<use href="#w" x="215.592"/>
<use href="#w" x="217.391"/>
<use href="#w" x="219.190"/>
<use href="#w" x="220.989"/>
<use href="#w" x="222.788"/>
<use href="#w" x="224.586"/>
<use href="#w" x="226.385"/>
<use href="#w" x="228.184"/>
<use href="#w" x="229.983"/>
<use href="#w" x="231.782"/>
<use href="#w" x="233.580"/>
<use href="#w" x="235.379"/>
<use href="#w" x="237.178"/>
<use href="#w" x="238.977"/>
<use href="#w" x="240.776"/>
<use href="#w" x="242.574"/>
<use href="#w" x="244.373"/>
<use href="#w" x="246.172"/>
<use href="#w" x="247.971"/>
<use href="#w" x="249.770"/>
<use href="#w" x="251.568"/>
<use href="#w" x="253.367"/>
<use href="#w" x="255.166"/>
<use href="#w" x="256.965"/>
<use href="#w" x="258.764"/>
<use href="#w" x="260.562"/>
<use href="#w" x="262.361"/>
<use href="#w" x="264.160"/>
<use href="#w" x="265.959"/>
<use href="#w" x="267.758"/>
<use href="#w" x="269.556"/>
<use href="#w" x="271.355"/>
<use href="#w" x="273.154"/>
<use href="#w" x="274.953"/>
<use href="#w" x="276.752"/>
<use href="#w" x="278.550"/>
<use href="#w" x="280.349"/>
<use href="#w" x="282.148"/>
<use href="#w" x="283.947"/>
<use href="#w" x="285.746"/>
<use href="#w" x="287.544"/>
<use href="#w" x="289.343"/>
<use href="#w" x="291.142"/>
<use href="#w" x="292.941"/>
<use href="#w" x="294.740"/>
<use href="#w" x="296.538"/>
<use href="#w" x="298.337"/>
<use href="#w" x="300.136"/>
<use href="#w" x="301.935"/>
<use href="#w" x="303.734"/>
<use href="#g" x="305.532"/>
<use href="#g" x="307.331"/>
<use href="#g" x="309.130"/>
<use href="#g" x="310.929"/>
<use href="#g" x="312.728"/>
<use href="#g" x="314.526"/>
<use href="#g" x="316.325"/>
<use href="#g" x="318.124"/>
<use href="#g" x="319.923"/>
<use href="#g" x="321.722"/>
<use href="#g" x="323.520"/>
<use href="#g" x="325.319"/>
<use href="#g" x="327.118"/>
<use href="#g" x="328.917"/>
<use href="#g" x="330.716"/>
<use href="#g" x="332.514"/>
<use href="#g" x="334.313"/>
<use href="#g" x="336.112"/>
<use href="#g" x="337.911"/>
<use href="#g" x="339.710"/>
<use href="#g" x="341.508"/>
<use href="#w" x="343.307"/>
<use href="#g" x="345.106"/>
<use href="#g" x="346.905"/>
<use href="#g" x="348.704"/>
<use href="#g" x="350.502"/>
<use href="#g" x="352.301"/>
<use href="#w" x="354.100"/>
<use href="#g" x="355.899"/>
<use href="#g" x="357.698"/>
<use href="#g" x="359.496"/>
<use href="#g" x="361.295"/>
<use href="#g" x="363.094"/>
<use href="#g" x="364.893"/>
<use href="#g" x="366.692"/>
<use href="#g" x="368.490"/>
<use href="#g" x="370.289"/>
<use href="#g" x="372.088"/>
<use href="#g" x="373.887"/>
<use href="#g" x="375.686"/>
<use href="#g" x="377.484"/>
<use href="#g" x="379.283"/>
<use href="#g" x="381.082"/>
<use href="#g" x="382.881"/>
<use href="#g" x="384.680"/>
<use href="#g" x="386.478"/>
<use href="#g" x="388.277"/>
<use href="#g" x="390.076"/>
<use href="#g" x="391.875"/>
<use href="#g" x="393.674"/>
<use href="#g" x="395.472"/>
<use href="#g" x="397.271"/>
<use href="#g" x="399.070"/>
<use href="#g" x="400.869"/>
<use href="#g" x="402.668"/>
<use href="#g" x="404.466"/>
<use href="#g" x="406.265"/>
<use href="#g" x="408.064"/>
<use href="#g" x="409.863"/>
<use href="#g" x="411.662"/>
<use href="#g" x="413.460"/>
<use href="#g" x="415.259"/>
<use href="#g" x="417.058"/>
<use href="#g" x="418.857"/>
<use href="#g" x="420.656"/>
<use href="#g" x="422.454"/>
<use href="#g" x="424.253"/>
<use href="#g" x="426.052"/>
<use href="#g" x="427.851"/>
<use href="#g" x="429.650"/>
<use href="#g" x="431.448"/>
<use href="#g" x="433.247"/>
<use href="#g" x="435.046"/>
<use href="#g" x="436.845"/>
<use href="#g" x="438.644"/>
<use href="#g" x="440.442"/>
<use href="#g" x="442.241"/>
<use href="#g" x="444.040"/>
<use href="#g" x="445.839"/>
<use href="#g" x="447.638"/>
<use href="#g" x="449.436"/>
<use href="#g" x="451.235"/>
<use href="#g" x="453.034"/>
<use href="#g" x="454.833"/>
<use href="#g" x="456.632"/>
<use href="#g" x="458.430"/>
<use href="#g" x="460.229"/>
<use href="#g" x="462.028"/>
<use href="#g" x="463.827"/>
<use href="#g" x="465.626"/>
<use href="#g" x="467.424"/>
<use href="#g" x="469.223"/>
<use href="#g" x="471.022"/>
<use href="#g" x="472.821"/>
<use href="#g" x="474.620"/>
<use href="#g" x="476.418"/>
<use href="#g" x="478.217"/>
<use href="#g" x="480.016"/>
<use href="#g" x="481.815"/>
<use href="#g" x="483.614"/>
<use href="#g" x="485.412"/>
<use href="#g" x="487.211"/>
<use href="#g" x="489.010"/>
<use href="#g" x="490.809"/>
<use href="#g" x="492.608"/>
<use href="#g" x="494.406"/>
<use href="#g" x="496.205"/>
<use href="#g" x="498.004"/>
<use href="#g" x="499.803"/>
<use href="#g" x="501.602"/>
<use href="#g" x="503.400"/>
<use href="#g" x="505.199"/>
<use href="#g" x="506.998"/>
<use href="#g" x="508.797"/>
<use href="#g" x="510.596"/>
<use href="#g" x="512.394"/>
<use href="#g" x="514.193"/>
<use href="#g" x="515.992"/>
<use href="#g" x="517.791"/>
<use href="#g" x="519.590"/>
<use href="#g" x="521.388"/>
<use href="#g" x="523.187"/>
<use href="#g" x="524.986"/>
<use href="#g" x="526.785"/>
<use href="#g" x="528.584"/>
<use href="#g" x="530.382"/>
<use href="#g" x="532.181"/>
<use href="#g" x="533.980"/>
<use href="#g" x="535.779"/>
<use href="#g" x="537.578"/>
<use href="#g" x="539.376"/>
<use href="#g" x="541.175"/>
<use href="#g" x="542.974"/>
<use href="#g" x="544.773"/>
<use href="#g" x="546.572"/>
<use href="#g" x="548.370"/>
<use href="#g" x="550.169"/>
<use href="#g" x="551.968"/>
<use href="#g" x="553.767"/>
<use href="#g" x="555.566"/>
<use href="#g" x="557.364"/>
<use href="#g" x="559.163"/>
<use href="#w" x="560.962"/>
<use href="#g" x="562.761"/>
<use href="#g" x="564.560"/>
<use href="#g" x="566.358"/>
<use href="#g" x="568.157"/>
<use href="#g" x="569.956"/>
<use href="#g" x="571.755"/>
<use href="#g" x="573.554"/>
<use href="#g" x="575.352"/>
<use href="#g" x="577.151"/>
<use href="#g" x="578.950"/>
<use href="#g" x="580.749"/>
<use href="#g" x="582.548"/>
<use href="#g" x="584.346"/>
<use href="#g" x="586.145"/>
<use href="#g" x="587.944"/>
<use href="#g" x="589.743"/>
<use href="#g" x="591.542"/>
<use href="#g" x="593.340"/>
<use href="#g" x="595.139"/>
<use href="#g" x="596.938"/>
<use href="#g" x="598.737"/>
<use href="#g" x="600.536"/>
<use href="#g" x="602.334"/>
<use href="#g" x="604.133"/>
<use href="#g" x="605.932"/>
<use href="#g" x="607.731"/>
<use href="#g" x="609.530"/>
<use href="#g" x="611.328"/>
<use href="#g" x="613.127"/>
<use href="#g" x="614.926"/>
<use href="#g" x="616.725"/>
<use href="#g" x="618.524"/>
<use href="#g" x="620.322"/>
<use href="#g" x="622.121"/>
<use href="#g" x="623.920"/>
<use href="#g" x="625.719"/>
<use href="#g" x="627.518"/>
<use href="#g" x="629.316"/>
<use href="#g" x="631.115"/>
<use href="#g" x="632.914"/>
<use href="#g" x="634.713"/>
<use href="#g" x="636.512"/>
<use href="#g" x="638.310"/>
<use href="#g" x="640.109"/>
<use href="#g" x="641.908"/>
<use href="#g" x="643.707"/>
<use href="#g" x="645.506"/>
<use href="#g" x="647.304"/>
<use href="#g" x="649.103"/>
<use href="#g" x="650.902"/>
<use href="#g" x="652.701"/>
<use href="#g" x="654.500"/>
<use href="#g" x="656.298"/>
<use href="#g" x="658.097"/>
<use href="#g" x="659.896"/>
<use href="#g" x="661.695"/>
<use href="#g" x="663.494"/>
<use href="#g" x="665.292"/>
<use href="#g" x="667.091"/>
<use href="#g" x="668.890"/>
<use href="#g" x="670.689"/>
<use href="#g" x="672.488"/>
<use href="#g" x="674.286"/>
<use href="#g" x="676.085"/>
<use href="#g" x="677.884"/>
<use href="#g" x="679.683"/>
<use href="#g" x="681.482"/>
<use href="#g" x="683.280"/>
<use href="#g" x="685.079"/>
<use href="#g" x="686.878"/>
<use href="#g" x="688.677"/>
<use href="#g" x="690.476"/>
<use href="#g" x="692.274"/>
<use href="#g" x="694.073"/>
<use href="#g" x="695.872"/>
<use href="#g" x="697.671"/>
<use href="#g" x="699.470"/>
<use href="#g" x="701.268"/>
<use href="#g" x="703.067"/>
<use href="#g" x="704.866"/>
<use href="#g" x="706.665"/>
<use href="#g" x="708.464"/>
<use href="#g" x="710.262"/>
<use href="#g" x="712.061"/>
<use href="#g" x="713.860"/>
<use href="#g" x="715.659"/>
<use href="#g" x="717.458"/>
<use href="#g" x="719.256"/>
<use href="#g" x="721.055"/>
<use href="#g" x="722.854"/>
<use href="#g" x="724.653"/>
<use href="#g" x="726.452"/>
<use href="#g" x="728.250"/>
<use href="#g" x="730.049"/>
<use href="#g" x="731.848"/>
<use href="#g" x="733.647"/>
<use href="#g" x="735.446"/>
<use href="#g" x="737.244"/>
<use href="#g" x="739.043"/>
<use href="#g" x="740.842"/>
<use href="#g" x="742.641"/>
<use href="#g" x="744.440"/>
<use href="#g" x="746.238"/>
<use href="#g" x="748.037"/>
<use href="#g" x="749.836"/>
<use href="#g" x="751.635"/>
<use href="#g" x="753.434"/>
<use href="#g" x="755.232"/>
<use href="#g" x="757.031"/>
<use href="#g" x="758.830"/>
<use href="#w" x="760.629"/>
<use href="#g" x="762.428"/>
<use href="#g" x="764.226"/>
<use href="#g" x="766.025"/>
<use href="#g" x="767.824"/>
<use href="#g" x="769.623"/>
<use href="#g" x="771.422"/>
<use href="#g" x="773.220"/>
<use href="#g" x="775.019"/>
<use href="#g" x="776.818"/>
<use href="#g" x="778.617"/>
<use href="#g" x="780.416"/>
<use href="#g" x="782.214"/>
<use href="#g" x="784.013"/>
<use href="#g" x="785.812"/>
<use href="#g" x="787.611"/>
<use href="#g" x="789.410"/>
<use href="#g" x="791.208"/>
<use href="#g" x="793.007"/>
<use href="#g" x="794.806"/>
<use href="#g" x="796.605"/>
<use href="#g" x="798.404"/>
<use href="#g" x="800.202"/>
<use href="#g" x="802.001"/>
<use href="#g" x="803.800"/>
<use href="#w" x="805.599"/>
<use href="#w" x="807.398"/>
<use href="#w" x="809.196"/>
<use href="#g" x="810.995"/>
<use href="#g" x="812.794"/>
<use href="#w" x="814.593"/>
<use href="#g" x="816.392"/>
<use href="#g" x="818.190"/>
<use href="#g" x="819.989"/>
<use href="#g" x="821.788"/>
<use href="#g" x="823.587"/>
<use href="#g" x="825.386"/>
<use href="#g" x="827.184"/>
<use href="#g" x="828.983"/>
<use href="#g" x="830.782"/>
<use href="#g" x="832.581"/>
<use href="#g" x="834.380"/>
<use href="#g" x="836.178"/>
<use href="#g" x="837.977"/>
<use href="#g" x="839.776"/>
<use href="#g" x="841.575"/>
<use href="#g" x="843.374"/>
<use href="#g" x="845.172"/>
<use href="#g" x="846.971"/>
<use href="#g" x="848.770"/>
<use href="#g" x="850.569"/>
<use href="#g" x="852.368"/>
<use href="#g" x="854.166"/>
<use href="#g" x="855.965"/>
<use href="#g" x="857.764"/>
<use href="#g" x="859.563"/>
<use href="#g" x="861.362"/>
<use href="#g" x="863.160"/>
<use href="#g" x="864.959"/>
<use href="#g" x="866.758"/>
<use href="#g" x="868.557"/>
<use href="#g" x="870.356"/>
<use href="#g" x="872.154"/>
<use href="#g" x="873.953"/>
<use href="#g" x="875.752"/>
<use href="#g" x="877.551"/>
<use href="#g" x="879.350"/>
<use href="#g" x="881.148"/>
<use href="#g" x="882.947"/>
<use href="#g" x="884.746"/>
<use href="#g" x="886.545"/>
<use href="#g" x="888.344"/>
<use href="#g" x="890.142"/>
<use href="#g" x="891.941"/>
<use href="#g" x="893.740"/>
<use href="#g" x="895.539"/>
<use href="#g" x="897.338"/>
<use href="#g" x="899.136"/>
<use href="#g" x="900.935"/>
<use href="#g" x="902.734"/>
<use href="#g" x="904.533"/>
<use href="#g" x="906.332"/>
<use href="#g" x="908.130"/>
<use href="#g" x="909.929"/>
<use href="#g" x="911.728"/>
<use href="#g" x="913.527"/>
<use href="#g" x="915.326"/>
<use href="#g" x="917.124"/>
<use href="#g" x="918.923"/>
<use href="#g" x="920.722"/>
<use href="#g" x="922.521"/>
<use href="#g" x="924.320"/>
<use href="#g" x="926.118"/>
<use href="#g" x="927.917"/>
<use href="#g" x="929.716"/>
<use href="#g" x="931.515"/>
<use href="#g" x="933.314"/>
<use href="#g" x="935.112"/>
<use href="#g" x="936.911"/>
<use href="#g" x="938.710"/>
<use href="#g" x="940.509"/>
<use href="#g" x="942.308"/>
<use href="#g" x="944.106"/>
<use href="#g" x="945.905"/>
<use href="#g" x="947.704"/>
<use href="#g" x="949.503"/>
<use href="#g" x="951.302"/>
<use href="#g" x="953.100"/>
<use href="#g" x="954.899"/>
<use href="#g" x="956.698"/>
<use href="#g" x="958.497"/>
<use href="#g" x="960.296"/>
<use href="#g" x="962.094"/>
<use href="#g" x="963.893"/>
<use href="#g" x="965.692"/>
<use href="#g" x="967.491"/>
<use href="#g" x="969.290"/>
<use href="#g" x="971.088"/>
<use href="#g" x="972.887"/>
<use href="#g" x="974.686"/>
<use href="#g" x="976.485"/>
<use href="#g" x="978.284"/>
<use href="#g" x="980.082"/>
<use href="#g" x="981.881"/>
<use href="#g" x="983.680"/>
<use href="#g" x="985.479"/>
<use href="#g" x="987.278"/>
<use href="#g" x="989.076"/>
<use href="#g" x="990.875"/>
<use href="#g" x="992.674"/>
<use href="#g" x="994.473"/>
<use href="#g" x="996.272"/>
<use href="#g" x="998.070"/>
<use href="#g" x="999.869"/>
<use href="#g" x="1001.668"/>
<use href="#g" x="1003.467"/>
<use href="#g" x="1005.266"/>
<use href="#g" x="1007.064"/>
<use href="#g" x="1008.863"/>
<use href="#g" x="1010.662"/>
<use href="#g" x="1012.461"/>
<use href="#g" x="1014.260"/>
<use href="#g" x="1016.058"/>
<use href="#g" x="1017.857"/>
<use href="#g" x="1019.656"/>
<use href="#g" x="1021.455"/>
<use href="#g" x="1023.254"/>
<use href="#g" x="1025.052"/>
<use href="#g" x="1026.851"/>
<use href="#g" x="1028.650"/>
<use href="#g" x="1030.449"/>
<use href="#g" x="1032.248"/>
<use href="#g" x="1034.046"/>
<use href="#g" x="1035.845"/>
<use href="#g" x="1037.644"/>
<use href="#g" x="1039.443"/>
<use href="#g" x="1041.242"/>
<use href="#g" x="1043.040"/>
<use href="#g" x="1044.839"/>
<use href="#g" x="1046.638"/>
<use href="#g" x="1048.437"/>
<use href="#g" x="1050.236"/>
<use href="#g" x="1052.034"/>
<use href="#g" x="1053.833"/>
<use href="#g" x="1055.632"/>
<use href="#g" x="1057.431"/>
<use href="#g" x="1059.230"/>
<use href="#g" x="1061.028"/>
<use href="#g" x="1062.827"/>
<use href="#g" x="1064.626"/>
<use href="#g" x="1066.425"/>
<use href="#g" x="1068.224"/>
<use href="#g" x="1070.022"/>
<use href="#g" x="1071.821"/>
<use href="#g" x="1073.620"/>
<use href="#g" x="1075.419"/>
<use href="#g" x="1077.218"/>
<use href="#g" x="1079.016"/>
<use href="#g" x="1080.815"/>
<use href="#g" x="1082.614"/>
<use href="#g" x="1084.413"/>
<use href="#g" x="1086.212"/>
<use href="#g" x="1088.010"/>
<use href="#g" x="1089.809"/>
<use href="#g" x="1091.608"/>
<use href="#g" x="1093.407"/>
<use href="#g" x="1095.206"/>
<use href="#g" x="1097.004"/>
<use href="#g" x="1098.803"/>
<use href="#g" x="1100.602"/>
<use href="#g" x="1102.401"/>
<use href="#g" x="1104.200"/>
<use href="#g" x="1105.998"/>
<use href="#g" x="1107.797"/>
<use href="#g" x="1109.596"/>
<use href="#g" x="1111.395"/>
<use href="#g" x="1113.194"/>
<use href="#g" x="1114.992"/>
<use href="#g" x="1116.791"/>
<use href="#g" x="1118.590"/>
<use href="#g" x="1120.389"/>
<use href="#g" x="1122.188"/>
<use href="#g" x="1123.986"/>
<use href="#g" x="1125.785"/>
<use href="#g" x="1127.584"/>
<use href="#g" x="1129.383"/>
<use href="#g" x="1131.182"/>
<use href="#g" x="1132.980"/>
<use href="#g" x="1134.779"/>
<use href="#g" x="1136.578"/>
<use href="#g" x="1138.377"/>
<use href="#g" x="1140.176"/>
<use href="#g" x="1141.974"/>
<use href="#g" x="1143.773"/>
<use href="#g" x="1145.572"/>
<use href="#g" x="1147.371"/>
<use href="#g" x="1149.170"/>
<use href="#g" x="1150.968"/>
<use href="#g" x="1152.767"/>
<use href="#g" x="1154.566"/>
<use href="#g" x="1156.365"/>
<use href="#g" x="1158.164"/>
<use href="#g" x="1159.962"/>
<use href="#g" x="1161.761"/>
<use href="#g" x="1163.560"/>
<use href="#g" x="1165.359"/>
<use href="#g" x="1167.158"/>
<use href="#g" x="1168.956"/>
<use href="#g" x="1170.755"/>
<use href="#g" x="1172.554"/>
<use href="#g" x="1174.353"/>
<use href="#g" x="1176.152"/>
<use href="#g" x="1177.950"/>
<use href="#g" x="1179.749"/>
</g>
</g>
<rect x="129.250" y="107" width="1052.298" height="1" fill="#000" fill-opacity="0.454"/>
<rect x="129.250" y="180" width="1052.298" height="1" fill="#000" fill-opacity="0.494"/>
<rect x="129.250" y="253" width="1052.298" height="1" fill="#000" fill-opacity="0.504"/>
<rect x="129.250" y="254" width="1052.298" height="1" fill="#000" fill-opacity="0.036"/>
<rect x="129.250" y="326" width="1052.298" height="1" fill="#000" fill-opacity="0.072"/>
<rect x="129.250" y="327" width="1052.298" height="1" fill="#000" fill-opacity="0.395"/>
<rect x="129.250" y="400" width="1052.298" height="1" fill="#000" fill-opacity="0.472"/>
<rect x="129.250" y="473" width="1052.298" height="1" fill="#000" fill-opacity="0.517"/>
<g fill="#000">
<rect x="128.945" y="33.945" width="1.111" height="514.11"/>
<rect x="1181.945" y="33.945" width="1.111" height="514.11"/>
<rect x="128.945" y="33.945" width="1054.11" height="1.111"/>
<rect x="128.945" y="546.945" width="1054.11" height="1.111"/>
<rect x="128.945" y="547.5" width="1.111" height="4.861"/>
<rect x="308.945" y="547.5" width="1.111" height="4.861"/>
<rect x="488.945" y="547.5" width="1.111" height="4.861"/>
<rect x="668.944" y="547.5" width="1.111" height="4.861"/>
<rect x="848.944" y="547.5" width="1.111" height="4.861"/>
<rect x="1028.945" y="547.5" width="1.111" height="4.861"/>
<rect x="124.639" y="70.945" width="4.861" height="1.111"/>
<rect x="124.639" y="143.945" width="4.861" height="1.111"/>
<rect x="124.639" y="216.945" width="4.861" height="1.111"/>
<rect x="124.639" y="290.945" width="4.861" height="1.111"/>
<rect x="124.639" y="363.945" width="4.861" height="1.111"/>
<rect x="124.639" y="436.945" width="4.861" height="1.111"/>
<rect x="124.639" y="509.945" width="4.861" height="1.111"/>
</g>
<text transform="translate(130.00 563.6) scale(0.915 1)" font-size="9.72" text-anchor="middle">0</text>
<text transform="translate(308.90 563.6) scale(0.915 1)" font-size="9.72" text-anchor="middle">100</text>
<text transform="translate(489.70 563.6) scale(0.915 1)" font-size="9.72" text-anchor="middle">200</text>
<text transform="translate(668.80 563.6) scale(0.915 1)" font-size="9.72" text-anchor="middle">300</text>
<text transform="translate(848.60 563.6) scale(0.915 1)" font-size="9.72" text-anchor="middle">400</text>
<text transform="translate(1028.80 563.6) scale(0.915 1)" font-size="9.72" text-anchor="middle">500</text>
<text x="119.8" y="75" font-size="9.6" text-anchor="end">BCR (585)</text>
<text x="119.8" y="148" font-size="9.6" text-anchor="end">Methylation (578)</text>
<text x="119.8" y="222" font-size="9.6" text-anchor="end">MAF (569)</text>
<text x="119.8" y="295" font-size="9.6" text-anchor="end">Clinical (522)</text>
<text x="119.8" y="368" font-size="9.6" text-anchor="end">CN (518)</text>
<text x="119.8" y="441" font-size="9.6" text-anchor="end">mRNA (515)</text>
<text x="119.8" y="515" font-size="9.6" text-anchor="end">miR (513)</text>
<text class="b" x="655.2" y="581.7" font-size="11.42" text-anchor="middle">Participant</text>
<text class="b" transform="translate(24.0 396.09) rotate(-90)" font-size="11.75" style="font-kerning:none">Data Type <tspan dx="-0.8">(Total </tspan><tspan dx="-0.7">Sample </tspan><tspan dx="-1.5">Count)</tspan></text>
<text class="b" x="655.1" y="26.0" font-size="14.0" text-anchor="middle">TCGA-LUAD: Data Type Breakdown by Participant</text>
<rect x="1083.5" y="41.5" width="92" height="42.1" rx="2.5" ry="2.5" fill="#fff" fill-opacity="0.8" stroke="#ccc" stroke-opacity="0.8" stroke-width="1.389"/>
<rect x="1087.9" y="46.75" width="25" height="9.15" fill="#2e8b57"/>
<rect x="1087.9" y="66.2" width="25" height="8.5" fill="#fff"/>
<text x="1123.1" y="55.75" font-size="12.3">Present</text>
<text x="1122.9" y="74.7" font-size="12.3">Absent</text>
</svg>
</body></html>
